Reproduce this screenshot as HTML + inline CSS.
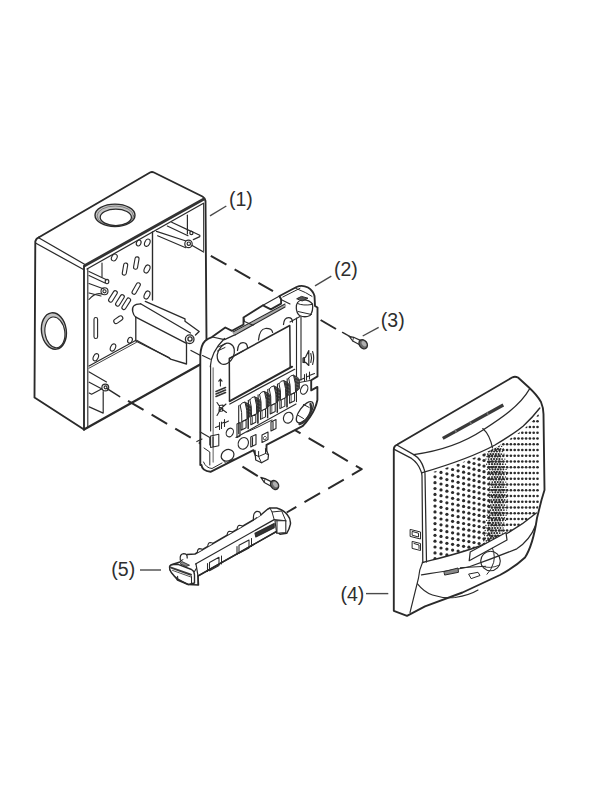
<!DOCTYPE html>
<html><head><meta charset="utf-8"><style>
html,body{margin:0;padding:0;background:#fff;}
body{width:600px;height:800px;overflow:hidden;position:relative;}
svg{position:absolute;left:0;top:0;}
.lbl{font-family:"Liberation Sans",sans-serif;font-size:19.5px;fill:#2e2e2e;}
</style></head><body>
<svg width="600" height="800" viewBox="0 0 600 800">
<g fill="none" stroke="#2a2a2a" stroke-width="1.75" stroke-linejoin="round" stroke-linecap="round">
<g fill="none" stroke="#2a2a2a" stroke-width="2" stroke-dasharray="18 9.4" stroke-linecap="butt">
<path d="M210.8,255.8 L273,291.2"/>
<path d="M320.6,320 L336,329"/>
<path d="M128,400.8 L215,452"/>
<path d="M242.5,466.6 L258,476.3"/>
<path d="M285,424.2 L361.7,469.2 L286.7,512.5"/>
</g>

<!-- ===== BOX (1) ===== -->
<g id="box">
<!-- left face -->
<path d="M39,237.3 Q36,238.3 35.3,241.5 L34.5,397.5 L84,429.5" stroke-width="1.88"/>
<!-- top-back edge -->
<path d="M39,237.3 L150,172.5 Q152,171.5 154,172.5 L202.5,196.5 Q205,198 205.5,201 L206.5,340" stroke-width="1.88"/>
<!-- top-left bevel double line -->
<path d="M39.5,238.3 L85,264.5" stroke-width="1.25"/>
<path d="M35.5,243 L83.5,269.5" stroke-width="1.25"/>
<!-- rim top edge (front of top face) -->
<path d="M85,265.5 L203.5,199.3" stroke-width="2.90" stroke="#333"/>
<path d="M87,269 L203.5,203.2" stroke-width="1.25"/>

<!-- rim left vertical -->
<path d="M84,266 L84,429.5" stroke-width="1.88"/>
<path d="M87.8,269 L87.8,427" stroke-width="1.12"/>
<!-- right rim inner -->
<path d="M203.6,203.5 L203.7,251" stroke-width="1.00"/>
<!-- bottom front edge -->
<path d="M84,429.5 L201,364" stroke-width="2.25"/>
<!-- top hole -->
<path d="M95,215.3 A20,11.2 0 1 0 135,215.3 A20,11.2 0 1 0 95,215.3 Z M100.2,217.3 A15.6,8.2 0 1 0 131.4,217.3 A15.6,8.2 0 1 0 100.2,217.3 Z" fill="#c4c4c4" fill-rule="evenodd" stroke="none"/>
<ellipse cx="115" cy="215.3" rx="20" ry="11.2" stroke-width="1.38"/>
<ellipse cx="115.3" cy="215.9" rx="18.2" ry="9.9" stroke-width="0.62" stroke="#555"/>
<ellipse cx="115.8" cy="217.3" rx="15.6" ry="8.2" stroke-width="1.25"/>
<!-- left hole -->
<g transform="rotate(-8 53.9 331)">
<path d="M41.5,331 A12.4,18.3 0 1 0 66.3,331 A12.4,18.3 0 1 0 41.5,331 Z M44.8,332.5 A9.9,15.5 0 1 0 64.6,332.5 A9.9,15.5 0 1 0 44.8,332.5 Z" fill="#c4c4c4" fill-rule="evenodd" stroke="none"/>
<ellipse cx="53.9" cy="331" rx="12.4" ry="18.3" stroke-width="1.38"/>
<ellipse cx="54.7" cy="332.5" rx="9.9" ry="15.5" stroke-width="1.12"/>
</g>
<!-- interior: back-right corner line -->
<path d="M152.5,232 L152.5,300" stroke-width="1.38"/>
<!-- back wall / floor -->
<path d="M89,366 L136,340.3" stroke-width="1.25"/>
<path d="M89,368.2 L136.5,342.3" stroke-width="0.88"/>
<path d="M137,340.5 L170,358.5" stroke-width="1.25"/>
<!-- back wall holes -->
<g stroke-width="1.12">
<ellipse cx="114.3" cy="257.5" rx="2.6" ry="3.6" transform="rotate(30 114.3 257.5)"/>
<ellipse cx="147.3" cy="242.7" rx="2.5" ry="3.8" transform="rotate(25 147.3 242.7)"/>
<ellipse cx="138.7" cy="243" rx="2.2" ry="3" transform="rotate(25 138.7 243)"/>
<rect x="134.3" y="256.8" width="4" height="12.5" rx="2" transform="rotate(10 136.3 263)"/>
<rect x="123" y="263" width="4" height="12.2" rx="2" transform="rotate(10 125 269)"/>
<ellipse cx="147" cy="269" rx="2.6" ry="4.2" transform="rotate(25 147 269)"/>
<rect x="134.3" y="282.3" width="4" height="12.5" rx="2" transform="rotate(30 136.3 288.3)"/>
<ellipse cx="147" cy="295" rx="2.6" ry="4.2" transform="rotate(25 147 295)"/>
<rect x="111" y="290" width="4" height="12.8" rx="2" transform="rotate(32 113 296.3)"/>
<rect x="118" y="294" width="4" height="12.8" rx="2" transform="rotate(32 120 300.3)"/>
<rect x="124.3" y="297.4" width="4" height="12.8" rx="2" transform="rotate(32 126.3 303.7)"/>
<rect x="116" y="314.7" width="4.6" height="10" rx="2.3" transform="rotate(55 118.3 319.7)"/>
<rect x="94" y="317.5" width="3.6" height="21" rx="1.8"/>
<ellipse cx="95.8" cy="357.3" rx="2.4" ry="3.8" transform="rotate(25 95.8 357.3)"/>
<ellipse cx="113" cy="347.5" rx="2.4" ry="3.8" transform="rotate(25 113 347.5)"/>
<ellipse cx="130" cy="340.2" rx="2.2" ry="3" transform="rotate(25 130 340.2)"/>
</g>
<!-- top-left interior bracket / rods -->
<g stroke-width="1.12">
<path d="M102,263 L102,277"/>
<path d="M89,271.5 L107,280"/>
<path d="M89,275.5 L105,283"/>
<ellipse cx="107" cy="281.5" rx="1.8" ry="2.2"/>
<path d="M89,283.5 L104,289"/>
<path d="M89,293 L101,296"/>
<circle cx="104.5" cy="291.3" r="3.5"/>
<circle cx="104.5" cy="291.3" r="1.6"/>
<path d="M89,299.5 Q95,292 102,294"/>
</g>
<!-- top-right interior pin -->
<g stroke-width="1.19">
<path d="M187.4,215.2 L187.4,234"/>
<path d="M171.7,222.2 L191.2,231.4"/>
<path d="M167.3,226 L188,235.75"/>
<circle cx="191.4" cy="233" r="1.6"/>
<path d="M191.2,231.2 L199.8,235.2 L199.8,236.6 L193.3,239.6"/>
<path d="M156.5,231.4 L186.8,241.2"/>
<path d="M157.6,235.75 L185.75,247.7"/>
<circle cx="188.5" cy="243.9" r="3.7" fill="#fff"/>
<circle cx="188.8" cy="243.7" r="1.7"/>
<path d="M192.2,245.5 L203.6,252" stroke-width="1.38"/>
</g>
<!-- bracket (DIN rail) -->
<g stroke-width="1.31">
<path d="M140.6,303.8 Q131,304 132.7,311.7 Q133.5,315.5 135.8,317.2" fill="#fff"/>
<path d="M140.6,303.8 L190.5,333"/>
<path d="M145.3,301.4 L185,318.8 L185,321.2 L199.2,331.5 L195.5,335"/>
<path d="M135.8,317.2 L186.5,343.3"/>
<circle cx="189.7" cy="339.2" r="4.3" fill="#fff"/>
<circle cx="190" cy="339" r="2.1"/>
<path d="M135.8,317.2 L135.8,341 L169,357.6 L170.5,359.2 L186.5,364 L186.5,343.5"/>
<path d="M191,350.5 L201.5,356" stroke-width="1.38"/>
</g>
<!-- lower-left boss -->
<g stroke-width="1.19">
<path d="M89.2,371.9 L106.5,382"/>
<path d="M89.2,382.2 L102,389"/>
<path d="M89.2,393 L91.6,394.2 L101.5,389"/>
<path d="M103.2,391.5 L103.2,413.1 L89.2,406.9"/>
<circle cx="105.3" cy="387.5" r="3.4" fill="#fff"/>
<circle cx="105.6" cy="387.3" r="1.5"/>
<path d="M106.7,388.4 L119.7,396.6" stroke-width="1.50"/>
</g>
</g>

<g id="plate">
<!-- silhouette fill -->
<path d="M200.3,465 L200.3,355 Q201,345 205,341 Q208,338.5 212,337.1 L225.3,327.5 L232,330.8 L243.5,324.5 L243.5,317.5 L263,305.3 L270.8,309.4 L281.1,303.6 L281.1,299.1 L279.5,296 L296.5,287 Q302,284.5 308,287.5 Q313,290.5 314.5,296 L315,306 L317.5,307.5 L317.5,376.4 L311.2,380.3 L311.2,390.4 L317.4,386.9 L317.4,400 Q315.5,409 310,417 Q306,423 302.5,426.2 L266.5,444.8 L266.5,457 Q263,462 257,459 L253.5,450.2 L210.5,471.8 Q202,471 201.5,465 Z" fill="#fff" stroke-width="1.88"/>
<!-- left frame edge lines -->
<!-- top-left corner block -->
<path d="M212.4,337 L224.5,339.6 L235.3,334.6" stroke-width="1.25"/>
<path d="M202.5,355.5 L210.3,359.2" stroke-width="1.12"/>
<path d="M210.3,366.7 Q211,352 224.5,338.5" stroke-width="1.25"/>
<ellipse cx="225.8" cy="353.8" rx="8" ry="11" transform="rotate(25 225.8 353.8)" stroke-width="1.25"/>
<path d="M218,347 L226,343.5 M217.5,351 L225,347.5" stroke-width="1.00"/>
<!-- top edge frame inner lines -->
<path d="M234,333.6 L285,305.6" stroke-width="2.30" stroke="#aaa"/>
<path d="M233,332 L285,304" stroke-width="1.12"/>
<path d="M235,335 L285,307" stroke-width="1.12"/>
<!-- tabs front faces -->
<path d="M243.5,317.5 L244.5,321.5 L253,325.3" stroke-width="1.12"/>
<path d="M279.5,296.5 L281,299.5 L290,304" stroke-width="1.12"/>
<path d="M263,305.3 L279.5,296" stroke-width="1.12"/>
<!-- window -->
<path d="M229.5,401 L229.3,358.3 L289.8,325.5 L290.2,367.2" stroke-width="1.50"/>
<path d="M230,358.3 L243,351" stroke-width="1.25"/>
<!-- notches along top of window -->
<path d="M237.5,350.5 Q238,342.5 243,342.5 Q247.5,342.5 247.5,348" stroke-width="1.25"/>
<path d="M258.5,340 Q259.5,329 265.5,328.5 Q271.8,328.3 272.6,332.3" stroke-width="1.25"/>
<path d="M283.5,324.5 Q284,317.5 288.5,317.5 Q292.5,317.5 292.5,322" stroke-width="1.25"/>
<!-- right frame lines -->
<path d="M296.5,318 L296.5,380" stroke-width="1.12"/>
<path d="M301,317 L301,380" stroke-width="1.12"/>
<path d="M290,322 L300,316.5" stroke-width="1.12"/>
<!-- top-right corner hollow cylinder -->
<path d="M296.3,308 Q296,301 302,300 Q309,299.5 312.5,304 Q313.5,311 310,315.5 Q305,318 299.5,315.5 Q296.5,313 296.3,308 Z" fill="#fff" stroke-width="1.25"/>
<path d="M297.5,303.5 Q303,306 312,304.5" stroke-width="1.00"/>
<path d="M298,311.5 L311.5,314.5" stroke-width="1.00"/>
<path d="M297,298.6 L301.5,296.4 L308,298.2 L302.5,300.8 Z" fill="#555" stroke-width="1.00"/>
<path d="M295.7,288.3 L305.5,292.6 L312,296.4" stroke-width="1.00"/>
<path d="M282.8,297 L300,288.3" stroke-width="1.00"/>
<!-- speaker icon -->
<path d="M303,358 L305.5,357.3 L308.8,350.5 L308.8,365.5 L305.5,362.3 L303,362.5 Z" stroke-width="1.19" fill="#fff"/>
<path d="M304.2,358 L304.2,362.3" stroke-width="1.75"/>
<path d="M310.8,353.5 Q312.3,358 310.8,362.5 M312.6,351.5 Q314.8,358 312.6,364.5" stroke-width="1.12"/>
<!-- battery symbols -->
<path d="M300,380 L304,378.3 M304.5,374.5 L304.5,381 M306.5,373.8 L306.5,380 M307,376.8 L309,376 M309.5,372 L309.5,379 M310,375.3 L314.5,373.5" stroke-width="1.06"/>

<!-- right edge features -->
<ellipse cx="304.2" cy="389.5" rx="3.3" ry="5" transform="rotate(25 304.2 389.5)" stroke-width="1.12"/>
<ellipse cx="304.8" cy="412.2" rx="5.3" ry="12.5" transform="rotate(36 304.8 412.2)" stroke-width="1.25"/>
<path d="M310.5,404 Q313,410 307,419 Q303,423.5 299.5,424" stroke-width="2.30" stroke="#333"/>
<path d="M303.5,404.5 L309.2,407.5 M297.5,415 L303.5,418.5" stroke-width="1.00"/>
<path d="M296.5,378 L296.5,383 L311.2,380.3" stroke-width="1.00"/>
<!-- window bottom ledge -->
<path d="M229.8,401.1 L292.1,366.7" stroke-width="2.00"/>
<path d="M229.8,404 L294.7,369.3" stroke-width="1.25"/>
<!-- left frame symbols -->
<path d="M220.4,386 L220.4,379.5 M218.8,381.2 L220.4,379 L222,381.2" stroke-width="1.12"/>
<path d="M216,391.5 L225.5,387.5 M216,394 L225.5,390 M216,396.5 L225.5,392.5" stroke-width="1.62" stroke="#333"/>
<path d="M217,402.5 L221,408.5 L226,404 M221,408.5 L217,415.5 M221,408.5 L226.5,412.5 M219.5,405.5 L223,405 L222.5,411 L219,411.5 Z" stroke-width="1.12"/>
<path d="M215.5,427.5 L219,426 M219.5,422.5 L219.5,429.5 M221.5,422 L221.5,428.5 M222.5,423 L224.5,422 M224.5,419.5 L224.5,426.5 M224.5,423 L228.5,421" stroke-width="1.06"/>
<path d="M210.6,366 L210.6,431" stroke-width="1.12"/>
<path d="M213.2,368 L213.2,462" stroke-width="1.62" stroke="#9a9a9a"/>
</g>

<g id="terminals">
<path d="M238.7,405.7 L238.7,433.7" stroke-width="1.12"/>
<path d="M245.0,402.2 Q249.5,403.2 251.0,406.7 L251.0,415.7 L247.0,419.2 Q247.5,409.7 245.0,402.2 Z" fill="#3a3a3a" stroke="#2a2a2a" stroke-width="0.75"/>
<path d="M247.0,404.2 L250.5,405.6" stroke="#888" stroke-width="0.56"/>
<path d="M247.0,407.4 L250.5,408.8" stroke="#888" stroke-width="0.56"/>
<path d="M247.0,410.6 L250.5,412.0" stroke="#888" stroke-width="0.56"/>
<path d="M247.0,413.8 L250.5,415.2" stroke="#888" stroke-width="0.56"/>
<path d="M240.2,405.2 Q242.0,401.9 245.0,402.2 Q247.5,409.7 247.0,419.2 L241.8,421.7 Q242.3,411.7 240.2,405.2 Z" fill="#fff" stroke-width="1.00"/>
<path d="M241.1,422.2 L246.1,419.7 L246.1,427.7 L241.1,430.2 Z" fill="#fff" stroke-width="1.06"/>
<path d="M242.7,422.2 L242.7,429.2" stroke-width="0.75"/>
<path d="M248.0,418.2 L248.0,428.7" stroke-width="1.00"/>
<path d="M248.4,400.3 L248.4,428.3" stroke-width="1.12"/>
<path d="M254.7,396.8 Q259.2,397.8 260.7,401.3 L260.7,410.3 L256.7,413.8 Q257.2,404.3 254.7,396.8 Z" fill="#3a3a3a" stroke="#2a2a2a" stroke-width="0.75"/>
<path d="M256.7,398.8 L260.2,400.2" stroke="#888" stroke-width="0.56"/>
<path d="M256.7,402.0 L260.2,403.4" stroke="#888" stroke-width="0.56"/>
<path d="M256.7,405.2 L260.2,406.6" stroke="#888" stroke-width="0.56"/>
<path d="M256.7,408.4 L260.2,409.8" stroke="#888" stroke-width="0.56"/>
<path d="M249.9,399.8 Q251.7,396.5 254.7,396.8 Q257.2,404.3 256.7,413.8 L251.5,416.3 Q252.0,406.3 249.9,399.8 Z" fill="#fff" stroke-width="1.00"/>
<path d="M250.8,416.8 L255.8,414.3 L255.8,422.3 L250.8,424.8 Z" fill="#fff" stroke-width="1.06"/>
<path d="M252.4,416.8 L252.4,423.8" stroke-width="0.75"/>
<path d="M257.7,412.8 L257.7,423.3" stroke-width="1.00"/>
<path d="M258.1,394.9 L258.1,422.9" stroke-width="1.12"/>
<path d="M264.4,391.4 Q268.9,392.4 270.4,395.9 L270.4,404.9 L266.4,408.4 Q266.9,398.9 264.4,391.4 Z" fill="#3a3a3a" stroke="#2a2a2a" stroke-width="0.75"/>
<path d="M266.4,393.4 L269.9,394.8" stroke="#888" stroke-width="0.56"/>
<path d="M266.4,396.6 L269.9,398.0" stroke="#888" stroke-width="0.56"/>
<path d="M266.4,399.8 L269.9,401.2" stroke="#888" stroke-width="0.56"/>
<path d="M266.4,403.0 L269.9,404.4" stroke="#888" stroke-width="0.56"/>
<path d="M259.6,394.4 Q261.4,391.1 264.4,391.4 Q266.9,398.9 266.4,408.4 L261.2,410.9 Q261.7,400.9 259.6,394.4 Z" fill="#fff" stroke-width="1.00"/>
<path d="M260.5,411.4 L265.5,408.9 L265.5,416.9 L260.5,419.4 Z" fill="#fff" stroke-width="1.06"/>
<path d="M262.1,411.4 L262.1,418.4" stroke-width="0.75"/>
<path d="M267.4,407.4 L267.4,417.9" stroke-width="1.00"/>
<path d="M267.8,389.5 L267.8,417.5" stroke-width="1.12"/>
<path d="M274.1,386.0 Q278.6,387.0 280.1,390.5 L280.1,399.5 L276.1,403.0 Q276.6,393.5 274.1,386.0 Z" fill="#3a3a3a" stroke="#2a2a2a" stroke-width="0.75"/>
<path d="M276.1,388.0 L279.6,389.4" stroke="#888" stroke-width="0.56"/>
<path d="M276.1,391.2 L279.6,392.6" stroke="#888" stroke-width="0.56"/>
<path d="M276.1,394.4 L279.6,395.8" stroke="#888" stroke-width="0.56"/>
<path d="M276.1,397.6 L279.6,399.0" stroke="#888" stroke-width="0.56"/>
<path d="M269.3,389.0 Q271.1,385.7 274.1,386.0 Q276.6,393.5 276.1,403.0 L270.9,405.5 Q271.4,395.5 269.3,389.0 Z" fill="#fff" stroke-width="1.00"/>
<path d="M270.2,406.0 L275.2,403.5 L275.2,411.5 L270.2,414.0 Z" fill="#fff" stroke-width="1.06"/>
<path d="M271.8,406.0 L271.8,413.0" stroke-width="0.75"/>
<path d="M277.1,402.0 L277.1,412.5" stroke-width="1.00"/>
<path d="M277.5,384.1 L277.5,412.1" stroke-width="1.12"/>
<path d="M283.8,380.6 Q288.3,381.6 289.8,385.1 L289.8,394.1 L285.8,397.6 Q286.3,388.1 283.8,380.6 Z" fill="#3a3a3a" stroke="#2a2a2a" stroke-width="0.75"/>
<path d="M285.8,382.6 L289.3,384.0" stroke="#888" stroke-width="0.56"/>
<path d="M285.8,385.8 L289.3,387.2" stroke="#888" stroke-width="0.56"/>
<path d="M285.8,389.0 L289.3,390.4" stroke="#888" stroke-width="0.56"/>
<path d="M285.8,392.2 L289.3,393.6" stroke="#888" stroke-width="0.56"/>
<path d="M279.0,383.6 Q280.8,380.3 283.8,380.6 Q286.3,388.1 285.8,397.6 L280.6,400.1 Q281.1,390.1 279.0,383.6 Z" fill="#fff" stroke-width="1.00"/>
<path d="M279.9,400.6 L284.9,398.1 L284.9,406.1 L279.9,408.6 Z" fill="#fff" stroke-width="1.06"/>
<path d="M281.5,400.6 L281.5,407.6" stroke-width="0.75"/>
<path d="M286.8,396.6 L286.8,407.1" stroke-width="1.00"/>
<path d="M287.2,378.7 L287.2,406.7" stroke-width="1.12"/>
<path d="M293.5,375.2 Q298.0,376.2 299.5,379.7 L299.5,388.7 L295.5,392.2 Q296.0,382.7 293.5,375.2 Z" fill="#3a3a3a" stroke="#2a2a2a" stroke-width="0.75"/>
<path d="M295.5,377.2 L299.0,378.6" stroke="#888" stroke-width="0.56"/>
<path d="M295.5,380.4 L299.0,381.8" stroke="#888" stroke-width="0.56"/>
<path d="M295.5,383.6 L299.0,385.0" stroke="#888" stroke-width="0.56"/>
<path d="M295.5,386.8 L299.0,388.2" stroke="#888" stroke-width="0.56"/>
<path d="M288.7,378.2 Q290.5,374.9 293.5,375.2 Q296.0,382.7 295.5,392.2 L290.3,394.7 Q290.8,384.7 288.7,378.2 Z" fill="#fff" stroke-width="1.00"/>
<path d="M289.6,395.2 L294.6,392.7 L294.6,400.7 L289.6,403.2 Z" fill="#fff" stroke-width="1.06"/>
<path d="M291.2,395.2 L291.2,402.2" stroke-width="0.75"/>
<path d="M296.5,391.2 L296.5,401.7" stroke-width="1.00"/>
</g>

<g id="plate_lower">
<!-- bottom-left corner -->
<path d="M200.3,432 L209.8,437.6 L209.8,445 M196.8,441.6 L202,439 M200.3,444 L200.3,441" stroke-width="1.12"/>
<path d="M210.6,436 L218.8,434.3 L218.8,445.7 L210.6,447.5 Z M213,437 L213,446.5" stroke-width="1.06"/>
<path d="M204,448 L209.8,452 L209.8,465" stroke-width="1.00"/>
<path d="M203.5,462 Q206,468 212,468.5 L222,463" stroke-width="1.00"/>
<!-- bottom-left hollow -->
<ellipse cx="227.6" cy="455.3" rx="6.6" ry="5.6" transform="rotate(-30 227.6 455.3)" stroke-width="1.25"/>
<path d="M221.5,458.5 L226,463.5 L234,459" stroke-width="1.00"/>
<!-- holes -->
<ellipse cx="243.3" cy="443.4" rx="5" ry="6" transform="rotate(25 243.3 443.4)" stroke-width="1.12"/>
<ellipse cx="229.8" cy="432.5" rx="3.4" ry="4.5" transform="rotate(25 229.8 432.5)" stroke-width="1.12"/>
<ellipse cx="288.2" cy="417.7" rx="4.6" ry="5.6" transform="rotate(25 288.2 417.7)" stroke-width="1.12"/>
<!-- rect openings -->
<path d="M250.8,437 L256,434.5 L256,444.5 L250.8,447 Z M252.5,437.5 L252.5,445.5" stroke-width="1.12"/>
<path d="M262,435 L268,432 L268,439.5 L262,442.5 Z" stroke-width="1.12"/>
<path d="M263.5,437.5 L265,436 L266.5,437.5 L265.5,439.5 L264,439.5 Z" stroke-width="0.75"/>
<!-- small rect near terminals bottom -->
<path d="M237,424 L240,422.5 L240,436 L237,437.5 Z" stroke-width="1.12"/>
<path d="M271,422 L276,419.5 L276,428.5 L271,431 Z M273,422 L273,429" stroke-width="1.12"/>
<!-- terminal block base line -->
<path d="M236,437.5 L296,404" stroke-width="1.12"/>
<path d="M247,432 L258,427 L272,420" stroke-width="1.00"/>
<!-- bottom stud -->
<path d="M255,450.5 L255.7,460 L261.5,462.8 L268,459.3 L268.5,454.7 L265.5,448.8" fill="#fff" stroke-width="1.25"/>
<path d="M255.5,455 L258.6,456.5 L265.5,453.5 L268.5,454.7 M258.6,456.5 L261.5,462.8 M258.6,456.5 L258.6,451.5 M265.5,453.5 L265.5,449" stroke-width="1.00"/>
<!-- right side bottom -->

</g>

<g id="screws">
<!-- screw 3 -->
<path d="M342.5,332.4 L347,334.8 M347.8,335.3 L349.5,336.3" stroke-width="1.38"/>
<path d="M349.3,336.4 L353.6,337.3 L360.4,340.4 L359.2,344.6 L352.7,341 Z" fill="#fff" stroke-width="1.19"/>
<path d="M353.6,337.3 L352.7,341" stroke-width="0.88"/>
<ellipse cx="363.2" cy="344.2" rx="3.8" ry="4.9" transform="rotate(-35 363.2 344.2)" fill="#6a6a6a" stroke-width="1.38"/>
<ellipse cx="364" cy="343.7" rx="2" ry="3" transform="rotate(-35 364 343.7)" fill="#b0b0b0" stroke="none"/>
<!-- screw under plate -->
<path d="M260.8,477.4 L265,478.6 L271.7,481.9 L270.6,486 L264.3,482.4 Z" fill="#fff" stroke-width="1.19"/>
<path d="M265,478.6 L264.3,482.4" stroke-width="0.88"/>
<ellipse cx="274.6" cy="485" rx="3.7" ry="4.8" transform="rotate(-35 274.6 485)" fill="#6a6a6a" stroke-width="1.38"/>
<ellipse cx="275.4" cy="484.5" rx="2" ry="3" transform="rotate(-35 275.4 484.5)" fill="#b0b0b0" stroke="none"/>
</g>

<g id="cover">
<!-- silhouette -->
<path d="M393.8,449 Q394,445.8 397.3,444.5 L512.5,377.3 Q515,376 518,377.5 L528.7,387.3 Q537,395 541,402 Q543.5,408 543.5,414 L544.5,490 L541.5,500 L537,518 Q533,545 525,557.5 Q515,567 500,575 L462.5,592.5 L425,606.3 L407,615.8 L393.8,610.8 Z" fill="#fff" stroke-width="1.88"/>
</g>

<defs><clipPath id="dotclip"><path d="M426.5,474 C445,468.5 472,460 496,447.5 Q515,436 524,429 Q534,420 541,411 L541,500 Q538,508 536,513 Q515,531 490,542 C465,552.5 440,558 426.5,561.5 Z"/></clipPath></defs>
<g clip-path="url(#dotclip)"><g fill="#2b2b2b" stroke="none"><circle cx="435.0" cy="430.0" r="1.62"/><circle cx="435.0" cy="435.9" r="1.62"/><circle cx="435.0" cy="441.7" r="1.62"/><circle cx="435.0" cy="447.6" r="1.62"/><circle cx="435.0" cy="453.4" r="1.62"/><circle cx="435.0" cy="459.3" r="1.62"/><circle cx="435.0" cy="465.1" r="1.62"/><circle cx="435.0" cy="471.0" r="1.62"/><circle cx="435.0" cy="476.8" r="1.62"/><circle cx="435.0" cy="482.7" r="1.62"/><circle cx="435.0" cy="488.5" r="1.62"/><circle cx="435.0" cy="494.4" r="1.62"/><circle cx="435.0" cy="500.2" r="1.62"/><circle cx="435.0" cy="506.1" r="1.62"/><circle cx="435.0" cy="511.9" r="1.62"/><circle cx="435.0" cy="517.8" r="1.62"/><circle cx="435.0" cy="523.6" r="1.62"/><circle cx="435.0" cy="529.5" r="1.62"/><circle cx="435.0" cy="535.3" r="1.62"/><circle cx="435.0" cy="541.2" r="1.62"/><circle cx="435.0" cy="547.0" r="1.62"/><circle cx="435.0" cy="552.9" r="1.62"/><circle cx="435.0" cy="558.7" r="1.62"/><circle cx="435.0" cy="564.6" r="1.62"/><circle cx="441.0" cy="431.7" r="1.62"/><circle cx="441.0" cy="437.5" r="1.62"/><circle cx="441.0" cy="443.3" r="1.62"/><circle cx="441.0" cy="449.1" r="1.62"/><circle cx="441.0" cy="455.0" r="1.62"/><circle cx="441.0" cy="460.8" r="1.62"/><circle cx="441.0" cy="466.6" r="1.62"/><circle cx="441.0" cy="472.4" r="1.62"/><circle cx="441.0" cy="478.2" r="1.62"/><circle cx="441.0" cy="484.0" r="1.62"/><circle cx="441.0" cy="489.9" r="1.62"/><circle cx="441.0" cy="495.7" r="1.62"/><circle cx="441.0" cy="501.5" r="1.62"/><circle cx="441.0" cy="507.3" r="1.62"/><circle cx="441.0" cy="513.1" r="1.62"/><circle cx="441.0" cy="519.0" r="1.62"/><circle cx="441.0" cy="524.8" r="1.62"/><circle cx="441.0" cy="530.6" r="1.62"/><circle cx="441.0" cy="536.4" r="1.62"/><circle cx="441.0" cy="542.2" r="1.62"/><circle cx="441.0" cy="548.0" r="1.62"/><circle cx="441.0" cy="553.9" r="1.62"/><circle cx="441.0" cy="559.7" r="1.62"/><circle cx="441.0" cy="565.5" r="1.62"/><circle cx="446.9" cy="433.3" r="1.62"/><circle cx="446.9" cy="439.1" r="1.62"/><circle cx="446.9" cy="444.9" r="1.62"/><circle cx="446.9" cy="450.7" r="1.62"/><circle cx="446.9" cy="456.5" r="1.62"/><circle cx="446.9" cy="462.3" r="1.62"/><circle cx="446.9" cy="468.0" r="1.62"/><circle cx="446.9" cy="473.8" r="1.62"/><circle cx="446.9" cy="479.6" r="1.62"/><circle cx="446.9" cy="485.4" r="1.62"/><circle cx="446.9" cy="491.2" r="1.62"/><circle cx="446.9" cy="497.0" r="1.62"/><circle cx="446.9" cy="502.8" r="1.62"/><circle cx="446.9" cy="508.6" r="1.62"/><circle cx="446.9" cy="514.3" r="1.62"/><circle cx="446.9" cy="520.1" r="1.62"/><circle cx="446.9" cy="525.9" r="1.62"/><circle cx="446.9" cy="531.7" r="1.62"/><circle cx="446.9" cy="537.5" r="1.62"/><circle cx="446.9" cy="543.3" r="1.62"/><circle cx="446.9" cy="549.1" r="1.62"/><circle cx="446.9" cy="554.9" r="1.62"/><circle cx="446.9" cy="560.6" r="1.62"/><circle cx="446.9" cy="566.4" r="1.62"/><circle cx="452.6" cy="434.9" r="1.62"/><circle cx="452.6" cy="440.7" r="1.62"/><circle cx="452.6" cy="446.4" r="1.62"/><circle cx="452.6" cy="452.2" r="1.62"/><circle cx="452.6" cy="457.9" r="1.62"/><circle cx="452.6" cy="463.7" r="1.62"/><circle cx="452.6" cy="469.5" r="1.62"/><circle cx="452.6" cy="475.2" r="1.62"/><circle cx="452.6" cy="481.0" r="1.62"/><circle cx="452.6" cy="486.7" r="1.62"/><circle cx="452.6" cy="492.5" r="1.62"/><circle cx="452.6" cy="498.3" r="1.62"/><circle cx="452.6" cy="504.0" r="1.62"/><circle cx="452.6" cy="509.8" r="1.62"/><circle cx="452.6" cy="515.5" r="1.62"/><circle cx="452.6" cy="521.3" r="1.62"/><circle cx="452.6" cy="527.0" r="1.62"/><circle cx="452.6" cy="532.8" r="1.62"/><circle cx="452.6" cy="538.6" r="1.62"/><circle cx="452.6" cy="544.3" r="1.62"/><circle cx="452.6" cy="550.1" r="1.62"/><circle cx="452.6" cy="555.8" r="1.62"/><circle cx="452.6" cy="561.6" r="1.62"/><circle cx="452.6" cy="567.3" r="1.62"/><circle cx="458.1" cy="430.7" r="1.62"/><circle cx="458.1" cy="436.5" r="1.62"/><circle cx="458.1" cy="442.2" r="1.62"/><circle cx="458.1" cy="447.9" r="1.62"/><circle cx="458.1" cy="453.7" r="1.62"/><circle cx="458.1" cy="459.4" r="1.62"/><circle cx="458.1" cy="465.1" r="1.62"/><circle cx="458.1" cy="470.8" r="1.62"/><circle cx="458.1" cy="476.6" r="1.62"/><circle cx="458.1" cy="482.3" r="1.62"/><circle cx="458.1" cy="488.0" r="1.62"/><circle cx="458.1" cy="493.8" r="1.62"/><circle cx="458.1" cy="499.5" r="1.62"/><circle cx="458.1" cy="505.2" r="1.62"/><circle cx="458.1" cy="510.9" r="1.62"/><circle cx="458.1" cy="516.7" r="1.62"/><circle cx="458.1" cy="522.4" r="1.62"/><circle cx="458.1" cy="528.1" r="1.62"/><circle cx="458.1" cy="533.9" r="1.62"/><circle cx="458.1" cy="539.6" r="1.62"/><circle cx="458.1" cy="545.3" r="1.62"/><circle cx="458.1" cy="551.0" r="1.62"/><circle cx="458.1" cy="556.8" r="1.62"/><circle cx="458.1" cy="562.5" r="1.62"/><circle cx="458.1" cy="568.2" r="1.62"/><circle cx="463.6" cy="432.3" r="1.62"/><circle cx="463.6" cy="438.0" r="1.62"/><circle cx="463.6" cy="443.7" r="1.62"/><circle cx="463.6" cy="449.4" r="1.62"/><circle cx="463.6" cy="455.1" r="1.62"/><circle cx="463.6" cy="460.8" r="1.62"/><circle cx="463.6" cy="466.5" r="1.62"/><circle cx="463.6" cy="472.2" r="1.62"/><circle cx="463.6" cy="477.9" r="1.62"/><circle cx="463.6" cy="483.6" r="1.62"/><circle cx="463.6" cy="489.3" r="1.62"/><circle cx="463.6" cy="495.0" r="1.62"/><circle cx="463.6" cy="500.7" r="1.62"/><circle cx="463.6" cy="506.4" r="1.62"/><circle cx="463.6" cy="512.1" r="1.62"/><circle cx="463.6" cy="517.8" r="1.62"/><circle cx="463.6" cy="523.5" r="1.62"/><circle cx="463.6" cy="529.2" r="1.62"/><circle cx="463.6" cy="534.9" r="1.62"/><circle cx="463.6" cy="540.6" r="1.62"/><circle cx="463.6" cy="546.3" r="1.62"/><circle cx="463.6" cy="552.0" r="1.62"/><circle cx="463.6" cy="557.7" r="1.62"/><circle cx="463.6" cy="563.4" r="1.62"/><circle cx="463.6" cy="569.1" r="1.62"/><circle cx="468.9" cy="433.8" r="1.62"/><circle cx="468.9" cy="439.5" r="1.62"/><circle cx="468.9" cy="445.2" r="1.62"/><circle cx="468.9" cy="450.8" r="1.62"/><circle cx="468.9" cy="456.5" r="1.62"/><circle cx="468.9" cy="462.2" r="1.62"/><circle cx="468.9" cy="467.8" r="1.62"/><circle cx="468.9" cy="473.5" r="1.62"/><circle cx="468.9" cy="479.2" r="1.62"/><circle cx="468.9" cy="484.9" r="1.62"/><circle cx="468.9" cy="490.5" r="1.62"/><circle cx="468.9" cy="496.2" r="1.62"/><circle cx="468.9" cy="501.9" r="1.62"/><circle cx="468.9" cy="507.5" r="1.62"/><circle cx="468.9" cy="513.2" r="1.62"/><circle cx="468.9" cy="518.9" r="1.62"/><circle cx="468.9" cy="524.6" r="1.62"/><circle cx="468.9" cy="530.2" r="1.62"/><circle cx="468.9" cy="535.9" r="1.62"/><circle cx="468.9" cy="541.6" r="1.62"/><circle cx="468.9" cy="547.2" r="1.62"/><circle cx="468.9" cy="552.9" r="1.62"/><circle cx="468.9" cy="558.6" r="1.62"/><circle cx="468.9" cy="564.3" r="1.62"/><circle cx="468.9" cy="569.9" r="1.62"/><circle cx="474.0" cy="435.3" r="1.62"/><circle cx="474.0" cy="440.9" r="1.62"/><circle cx="474.0" cy="446.6" r="1.62"/><circle cx="474.0" cy="452.2" r="1.62"/><circle cx="474.0" cy="457.9" r="1.62"/><circle cx="474.0" cy="463.5" r="1.62"/><circle cx="474.0" cy="469.2" r="1.62"/><circle cx="474.0" cy="474.8" r="1.62"/><circle cx="474.0" cy="480.4" r="1.62"/><circle cx="474.0" cy="486.1" r="1.62"/><circle cx="474.0" cy="491.7" r="1.62"/><circle cx="474.0" cy="497.4" r="1.62"/><circle cx="474.0" cy="503.0" r="1.62"/><circle cx="474.0" cy="508.7" r="1.62"/><circle cx="474.0" cy="514.3" r="1.62"/><circle cx="474.0" cy="520.0" r="1.62"/><circle cx="474.0" cy="525.6" r="1.62"/><circle cx="474.0" cy="531.2" r="1.62"/><circle cx="474.0" cy="536.9" r="1.62"/><circle cx="474.0" cy="542.5" r="1.62"/><circle cx="474.0" cy="548.2" r="1.62"/><circle cx="474.0" cy="553.8" r="1.62"/><circle cx="474.0" cy="559.5" r="1.62"/><circle cx="474.0" cy="565.1" r="1.62"/><circle cx="479.1" cy="431.1" r="1.62"/><circle cx="479.1" cy="436.7" r="1.62"/><circle cx="479.1" cy="442.3" r="1.62"/><circle cx="479.1" cy="448.0" r="1.62"/><circle cx="479.1" cy="453.6" r="1.62"/><circle cx="479.1" cy="459.2" r="1.62"/><circle cx="479.1" cy="464.8" r="1.62"/><circle cx="479.1" cy="470.4" r="1.62"/><circle cx="479.1" cy="476.0" r="1.62"/><circle cx="479.1" cy="481.7" r="1.62"/><circle cx="479.1" cy="487.3" r="1.62"/><circle cx="479.1" cy="492.9" r="1.62"/><circle cx="479.1" cy="498.5" r="1.62"/><circle cx="479.1" cy="504.1" r="1.62"/><circle cx="479.1" cy="509.8" r="1.62"/><circle cx="479.1" cy="515.4" r="1.62"/><circle cx="479.1" cy="521.0" r="1.62"/><circle cx="479.1" cy="526.6" r="1.62"/><circle cx="479.1" cy="532.2" r="1.62"/><circle cx="479.1" cy="537.8" r="1.62"/><circle cx="479.1" cy="543.5" r="1.62"/><circle cx="479.1" cy="549.1" r="1.62"/><circle cx="479.1" cy="554.7" r="1.62"/><circle cx="479.1" cy="560.3" r="1.62"/><circle cx="479.1" cy="565.9" r="1.62"/><circle cx="484.0" cy="432.5" r="1.62"/><circle cx="484.0" cy="438.1" r="1.62"/><circle cx="484.0" cy="443.7" r="1.62"/><circle cx="484.0" cy="449.3" r="1.62"/><circle cx="484.0" cy="454.9" r="1.62"/><circle cx="484.0" cy="460.5" r="1.62"/><circle cx="484.0" cy="466.1" r="1.62"/><circle cx="484.0" cy="471.7" r="1.62"/><circle cx="484.0" cy="477.3" r="1.62"/><circle cx="484.0" cy="482.9" r="1.62"/><circle cx="484.0" cy="488.5" r="1.62"/><circle cx="484.0" cy="494.0" r="1.62"/><circle cx="484.0" cy="499.6" r="1.62"/><circle cx="484.0" cy="505.2" r="1.62"/><circle cx="484.0" cy="510.8" r="1.62"/><circle cx="484.0" cy="516.4" r="1.62"/><circle cx="484.0" cy="522.0" r="1.62"/><circle cx="484.0" cy="527.6" r="1.62"/><circle cx="484.0" cy="533.2" r="1.62"/><circle cx="484.0" cy="538.8" r="1.62"/><circle cx="484.0" cy="544.4" r="1.62"/><circle cx="484.0" cy="550.0" r="1.62"/><circle cx="484.0" cy="555.6" r="1.62"/><circle cx="484.0" cy="561.2" r="1.62"/><circle cx="484.0" cy="566.7" r="1.62"/><circle cx="488.8" cy="433.9" r="1.62"/><circle cx="488.8" cy="439.5" r="1.62"/><circle cx="488.8" cy="445.1" r="1.62"/><circle cx="488.8" cy="450.6" r="1.62"/><circle cx="488.8" cy="456.2" r="1.62"/><circle cx="488.8" cy="461.8" r="1.62"/><circle cx="488.8" cy="467.3" r="1.62"/><circle cx="488.8" cy="472.9" r="1.62"/><circle cx="488.8" cy="478.5" r="1.62"/><circle cx="488.8" cy="484.0" r="1.62"/><circle cx="488.8" cy="489.6" r="1.62"/><circle cx="488.8" cy="495.2" r="1.62"/><circle cx="488.8" cy="500.7" r="1.62"/><circle cx="488.8" cy="506.3" r="1.62"/><circle cx="488.8" cy="511.9" r="1.62"/><circle cx="488.8" cy="517.4" r="1.62"/><circle cx="488.8" cy="523.0" r="1.62"/><circle cx="488.8" cy="528.6" r="1.62"/><circle cx="488.8" cy="534.1" r="1.62"/><circle cx="488.8" cy="539.7" r="1.62"/><circle cx="488.8" cy="545.3" r="1.62"/><circle cx="488.8" cy="550.8" r="1.62"/><circle cx="488.8" cy="556.4" r="1.62"/><circle cx="488.8" cy="562.0" r="1.62"/><circle cx="488.8" cy="567.5" r="1.62"/><ellipse cx="537.5" cy="415.5" rx="1.32" ry="1.3"/><ellipse cx="537.5" cy="421.2" rx="1.32" ry="1.3"/><ellipse cx="537.5" cy="427.0" rx="1.32" ry="1.3"/><ellipse cx="537.5" cy="432.8" rx="1.32" ry="1.3"/><ellipse cx="537.5" cy="438.5" rx="1.32" ry="1.3"/><ellipse cx="537.5" cy="444.2" rx="1.32" ry="1.3"/><ellipse cx="537.5" cy="450.0" rx="1.32" ry="1.3"/><ellipse cx="537.5" cy="455.8" rx="1.32" ry="1.3"/><ellipse cx="537.5" cy="461.5" rx="1.32" ry="1.3"/><ellipse cx="537.5" cy="467.2" rx="1.32" ry="1.3"/><ellipse cx="537.5" cy="473.0" rx="1.32" ry="1.3"/><ellipse cx="537.5" cy="478.8" rx="1.32" ry="1.3"/><ellipse cx="537.5" cy="484.5" rx="1.32" ry="1.3"/><ellipse cx="537.5" cy="490.2" rx="1.32" ry="1.3"/><ellipse cx="537.5" cy="496.0" rx="1.32" ry="1.3"/><ellipse cx="537.5" cy="501.8" rx="1.32" ry="1.3"/><ellipse cx="537.5" cy="507.5" rx="1.32" ry="1.3"/><ellipse cx="537.5" cy="513.2" rx="1.32" ry="1.3"/><ellipse cx="537.5" cy="519.0" rx="1.32" ry="1.3"/><ellipse cx="537.5" cy="524.8" rx="1.32" ry="1.3"/><ellipse cx="537.5" cy="530.5" rx="1.32" ry="1.3"/><ellipse cx="537.5" cy="536.2" rx="1.32" ry="1.3"/><ellipse cx="537.5" cy="542.0" rx="1.32" ry="1.3"/><ellipse cx="537.5" cy="547.8" rx="1.32" ry="1.3"/><ellipse cx="537.5" cy="553.5" rx="1.32" ry="1.3"/><ellipse cx="537.5" cy="559.2" rx="1.32" ry="1.3"/><ellipse cx="533.7" cy="415.5" rx="1.32" ry="1.3"/><ellipse cx="533.7" cy="421.2" rx="1.32" ry="1.3"/><ellipse cx="533.7" cy="427.0" rx="1.32" ry="1.3"/><ellipse cx="533.7" cy="432.8" rx="1.32" ry="1.3"/><ellipse cx="533.7" cy="438.5" rx="1.32" ry="1.3"/><ellipse cx="533.7" cy="444.2" rx="1.32" ry="1.3"/><ellipse cx="533.7" cy="450.0" rx="1.32" ry="1.3"/><ellipse cx="533.7" cy="455.8" rx="1.32" ry="1.3"/><ellipse cx="533.7" cy="461.5" rx="1.32" ry="1.3"/><ellipse cx="533.7" cy="467.2" rx="1.32" ry="1.3"/><ellipse cx="533.7" cy="473.0" rx="1.32" ry="1.3"/><ellipse cx="533.7" cy="478.8" rx="1.32" ry="1.3"/><ellipse cx="533.7" cy="484.5" rx="1.32" ry="1.3"/><ellipse cx="533.7" cy="490.2" rx="1.32" ry="1.3"/><ellipse cx="533.7" cy="496.0" rx="1.32" ry="1.3"/><ellipse cx="533.7" cy="501.8" rx="1.32" ry="1.3"/><ellipse cx="533.7" cy="507.5" rx="1.32" ry="1.3"/><ellipse cx="533.7" cy="513.2" rx="1.32" ry="1.3"/><ellipse cx="533.7" cy="519.0" rx="1.32" ry="1.3"/><ellipse cx="533.7" cy="524.8" rx="1.32" ry="1.3"/><ellipse cx="533.7" cy="530.5" rx="1.32" ry="1.3"/><ellipse cx="533.7" cy="536.2" rx="1.32" ry="1.3"/><ellipse cx="533.7" cy="542.0" rx="1.32" ry="1.3"/><ellipse cx="533.7" cy="547.8" rx="1.32" ry="1.3"/><ellipse cx="533.7" cy="553.5" rx="1.32" ry="1.3"/><ellipse cx="533.7" cy="559.2" rx="1.32" ry="1.3"/><ellipse cx="529.9" cy="415.5" rx="1.32" ry="1.3"/><ellipse cx="529.9" cy="421.2" rx="1.32" ry="1.3"/><ellipse cx="529.9" cy="427.0" rx="1.32" ry="1.3"/><ellipse cx="529.9" cy="432.8" rx="1.32" ry="1.3"/><ellipse cx="529.9" cy="438.5" rx="1.32" ry="1.3"/><ellipse cx="529.9" cy="444.2" rx="1.32" ry="1.3"/><ellipse cx="529.9" cy="450.0" rx="1.32" ry="1.3"/><ellipse cx="529.9" cy="455.8" rx="1.32" ry="1.3"/><ellipse cx="529.9" cy="461.5" rx="1.32" ry="1.3"/><ellipse cx="529.9" cy="467.2" rx="1.32" ry="1.3"/><ellipse cx="529.9" cy="473.0" rx="1.32" ry="1.3"/><ellipse cx="529.9" cy="478.8" rx="1.32" ry="1.3"/><ellipse cx="529.9" cy="484.5" rx="1.32" ry="1.3"/><ellipse cx="529.9" cy="490.2" rx="1.32" ry="1.3"/><ellipse cx="529.9" cy="496.0" rx="1.32" ry="1.3"/><ellipse cx="529.9" cy="501.8" rx="1.32" ry="1.3"/><ellipse cx="529.9" cy="507.5" rx="1.32" ry="1.3"/><ellipse cx="529.9" cy="513.2" rx="1.32" ry="1.3"/><ellipse cx="529.9" cy="519.0" rx="1.32" ry="1.3"/><ellipse cx="529.9" cy="524.8" rx="1.32" ry="1.3"/><ellipse cx="529.9" cy="530.5" rx="1.32" ry="1.3"/><ellipse cx="529.9" cy="536.2" rx="1.32" ry="1.3"/><ellipse cx="529.9" cy="542.0" rx="1.32" ry="1.3"/><ellipse cx="529.9" cy="547.8" rx="1.32" ry="1.3"/><ellipse cx="529.9" cy="553.5" rx="1.32" ry="1.3"/><ellipse cx="529.9" cy="559.2" rx="1.32" ry="1.3"/><ellipse cx="526.1" cy="415.5" rx="1.32" ry="1.3"/><ellipse cx="526.1" cy="421.2" rx="1.32" ry="1.3"/><ellipse cx="526.1" cy="427.0" rx="1.32" ry="1.3"/><ellipse cx="526.1" cy="432.8" rx="1.32" ry="1.3"/><ellipse cx="526.1" cy="438.5" rx="1.32" ry="1.3"/><ellipse cx="526.1" cy="444.2" rx="1.32" ry="1.3"/><ellipse cx="526.1" cy="450.0" rx="1.32" ry="1.3"/><ellipse cx="526.1" cy="455.8" rx="1.32" ry="1.3"/><ellipse cx="526.1" cy="461.5" rx="1.32" ry="1.3"/><ellipse cx="526.1" cy="467.2" rx="1.32" ry="1.3"/><ellipse cx="526.1" cy="473.0" rx="1.32" ry="1.3"/><ellipse cx="526.1" cy="478.8" rx="1.32" ry="1.3"/><ellipse cx="526.1" cy="484.5" rx="1.32" ry="1.3"/><ellipse cx="526.1" cy="490.2" rx="1.32" ry="1.3"/><ellipse cx="526.1" cy="496.0" rx="1.32" ry="1.3"/><ellipse cx="526.1" cy="501.8" rx="1.32" ry="1.3"/><ellipse cx="526.1" cy="507.5" rx="1.32" ry="1.3"/><ellipse cx="526.1" cy="513.2" rx="1.32" ry="1.3"/><ellipse cx="526.1" cy="519.0" rx="1.32" ry="1.3"/><ellipse cx="526.1" cy="524.8" rx="1.32" ry="1.3"/><ellipse cx="526.1" cy="530.5" rx="1.32" ry="1.3"/><ellipse cx="526.1" cy="536.2" rx="1.32" ry="1.3"/><ellipse cx="526.1" cy="542.0" rx="1.32" ry="1.3"/><ellipse cx="526.1" cy="547.8" rx="1.32" ry="1.3"/><ellipse cx="526.1" cy="553.5" rx="1.32" ry="1.3"/><ellipse cx="526.1" cy="559.2" rx="1.32" ry="1.3"/><ellipse cx="522.3" cy="415.5" rx="1.32" ry="1.3"/><ellipse cx="522.3" cy="421.2" rx="1.32" ry="1.3"/><ellipse cx="522.3" cy="427.0" rx="1.32" ry="1.3"/><ellipse cx="522.3" cy="432.8" rx="1.32" ry="1.3"/><ellipse cx="522.3" cy="438.5" rx="1.32" ry="1.3"/><ellipse cx="522.3" cy="444.2" rx="1.32" ry="1.3"/><ellipse cx="522.3" cy="450.0" rx="1.32" ry="1.3"/><ellipse cx="522.3" cy="455.8" rx="1.32" ry="1.3"/><ellipse cx="522.3" cy="461.5" rx="1.32" ry="1.3"/><ellipse cx="522.3" cy="467.2" rx="1.32" ry="1.3"/><ellipse cx="522.3" cy="473.0" rx="1.32" ry="1.3"/><ellipse cx="522.3" cy="478.8" rx="1.32" ry="1.3"/><ellipse cx="522.3" cy="484.5" rx="1.32" ry="1.3"/><ellipse cx="522.3" cy="490.2" rx="1.32" ry="1.3"/><ellipse cx="522.3" cy="496.0" rx="1.32" ry="1.3"/><ellipse cx="522.3" cy="501.8" rx="1.32" ry="1.3"/><ellipse cx="522.3" cy="507.5" rx="1.32" ry="1.3"/><ellipse cx="522.3" cy="513.2" rx="1.32" ry="1.3"/><ellipse cx="522.3" cy="519.0" rx="1.32" ry="1.3"/><ellipse cx="522.3" cy="524.8" rx="1.32" ry="1.3"/><ellipse cx="522.3" cy="530.5" rx="1.32" ry="1.3"/><ellipse cx="522.3" cy="536.2" rx="1.32" ry="1.3"/><ellipse cx="522.3" cy="542.0" rx="1.32" ry="1.3"/><ellipse cx="522.3" cy="547.8" rx="1.32" ry="1.3"/><ellipse cx="522.3" cy="553.5" rx="1.32" ry="1.3"/><ellipse cx="522.3" cy="559.2" rx="1.32" ry="1.3"/><ellipse cx="518.5" cy="415.5" rx="1.32" ry="1.3"/><ellipse cx="518.5" cy="421.2" rx="1.32" ry="1.3"/><ellipse cx="518.5" cy="427.0" rx="1.32" ry="1.3"/><ellipse cx="518.5" cy="432.8" rx="1.32" ry="1.3"/><ellipse cx="518.5" cy="438.5" rx="1.32" ry="1.3"/><ellipse cx="518.5" cy="444.2" rx="1.32" ry="1.3"/><ellipse cx="518.5" cy="450.0" rx="1.32" ry="1.3"/><ellipse cx="518.5" cy="455.8" rx="1.32" ry="1.3"/><ellipse cx="518.5" cy="461.5" rx="1.32" ry="1.3"/><ellipse cx="518.5" cy="467.2" rx="1.32" ry="1.3"/><ellipse cx="518.5" cy="473.0" rx="1.32" ry="1.3"/><ellipse cx="518.5" cy="478.8" rx="1.32" ry="1.3"/><ellipse cx="518.5" cy="484.5" rx="1.32" ry="1.3"/><ellipse cx="518.5" cy="490.2" rx="1.32" ry="1.3"/><ellipse cx="518.5" cy="496.0" rx="1.32" ry="1.3"/><ellipse cx="518.5" cy="501.8" rx="1.32" ry="1.3"/><ellipse cx="518.5" cy="507.5" rx="1.32" ry="1.3"/><ellipse cx="518.5" cy="513.2" rx="1.32" ry="1.3"/><ellipse cx="518.5" cy="519.0" rx="1.32" ry="1.3"/><ellipse cx="518.5" cy="524.8" rx="1.32" ry="1.3"/><ellipse cx="518.5" cy="530.5" rx="1.32" ry="1.3"/><ellipse cx="518.5" cy="536.2" rx="1.32" ry="1.3"/><ellipse cx="518.5" cy="542.0" rx="1.32" ry="1.3"/><ellipse cx="518.5" cy="547.8" rx="1.32" ry="1.3"/><ellipse cx="518.5" cy="553.5" rx="1.32" ry="1.3"/><ellipse cx="518.5" cy="559.2" rx="1.32" ry="1.3"/><ellipse cx="514.7" cy="415.5" rx="1.32" ry="1.3"/><ellipse cx="514.7" cy="421.2" rx="1.32" ry="1.3"/><ellipse cx="514.7" cy="427.0" rx="1.32" ry="1.3"/><ellipse cx="514.7" cy="432.8" rx="1.32" ry="1.3"/><ellipse cx="514.7" cy="438.5" rx="1.32" ry="1.3"/><ellipse cx="514.7" cy="444.2" rx="1.32" ry="1.3"/><ellipse cx="514.7" cy="450.0" rx="1.32" ry="1.3"/><ellipse cx="514.7" cy="455.8" rx="1.32" ry="1.3"/><ellipse cx="514.7" cy="461.5" rx="1.32" ry="1.3"/><ellipse cx="514.7" cy="467.2" rx="1.32" ry="1.3"/><ellipse cx="514.7" cy="473.0" rx="1.32" ry="1.3"/><ellipse cx="514.7" cy="478.8" rx="1.32" ry="1.3"/><ellipse cx="514.7" cy="484.5" rx="1.32" ry="1.3"/><ellipse cx="514.7" cy="490.2" rx="1.32" ry="1.3"/><ellipse cx="514.7" cy="496.0" rx="1.32" ry="1.3"/><ellipse cx="514.7" cy="501.8" rx="1.32" ry="1.3"/><ellipse cx="514.7" cy="507.5" rx="1.32" ry="1.3"/><ellipse cx="514.7" cy="513.2" rx="1.32" ry="1.3"/><ellipse cx="514.7" cy="519.0" rx="1.32" ry="1.3"/><ellipse cx="514.7" cy="524.8" rx="1.32" ry="1.3"/><ellipse cx="514.7" cy="530.5" rx="1.32" ry="1.3"/><ellipse cx="514.7" cy="536.2" rx="1.32" ry="1.3"/><ellipse cx="514.7" cy="542.0" rx="1.32" ry="1.3"/><ellipse cx="514.7" cy="547.8" rx="1.32" ry="1.3"/><ellipse cx="514.7" cy="553.5" rx="1.32" ry="1.3"/><ellipse cx="514.7" cy="559.2" rx="1.32" ry="1.3"/><ellipse cx="510.9" cy="415.5" rx="1.32" ry="1.3"/><ellipse cx="510.9" cy="421.2" rx="1.32" ry="1.3"/><ellipse cx="510.9" cy="427.0" rx="1.32" ry="1.3"/><ellipse cx="510.9" cy="432.8" rx="1.32" ry="1.3"/><ellipse cx="510.9" cy="438.5" rx="1.32" ry="1.3"/><ellipse cx="510.9" cy="444.2" rx="1.32" ry="1.3"/><ellipse cx="510.9" cy="450.0" rx="1.32" ry="1.3"/><ellipse cx="510.9" cy="455.8" rx="1.32" ry="1.3"/><ellipse cx="510.9" cy="461.5" rx="1.32" ry="1.3"/><ellipse cx="510.9" cy="467.2" rx="1.32" ry="1.3"/><ellipse cx="510.9" cy="473.0" rx="1.32" ry="1.3"/><ellipse cx="510.9" cy="478.8" rx="1.32" ry="1.3"/><ellipse cx="510.9" cy="484.5" rx="1.32" ry="1.3"/><ellipse cx="510.9" cy="490.2" rx="1.32" ry="1.3"/><ellipse cx="510.9" cy="496.0" rx="1.32" ry="1.3"/><ellipse cx="510.9" cy="501.8" rx="1.32" ry="1.3"/><ellipse cx="510.9" cy="507.5" rx="1.32" ry="1.3"/><ellipse cx="510.9" cy="513.2" rx="1.32" ry="1.3"/><ellipse cx="510.9" cy="519.0" rx="1.32" ry="1.3"/><ellipse cx="510.9" cy="524.8" rx="1.32" ry="1.3"/><ellipse cx="510.9" cy="530.5" rx="1.32" ry="1.3"/><ellipse cx="510.9" cy="536.2" rx="1.32" ry="1.3"/><ellipse cx="510.9" cy="542.0" rx="1.32" ry="1.3"/><ellipse cx="510.9" cy="547.8" rx="1.32" ry="1.3"/><ellipse cx="510.9" cy="553.5" rx="1.32" ry="1.3"/><ellipse cx="510.9" cy="559.2" rx="1.32" ry="1.3"/><ellipse cx="507.1" cy="415.5" rx="1.32" ry="1.3"/><ellipse cx="507.1" cy="421.2" rx="1.32" ry="1.3"/><ellipse cx="507.1" cy="427.0" rx="1.32" ry="1.3"/><ellipse cx="507.1" cy="432.8" rx="1.32" ry="1.3"/><ellipse cx="507.1" cy="438.5" rx="1.32" ry="1.3"/><ellipse cx="507.1" cy="444.2" rx="1.32" ry="1.3"/><ellipse cx="507.1" cy="450.0" rx="1.32" ry="1.3"/><ellipse cx="507.1" cy="455.8" rx="1.32" ry="1.3"/><ellipse cx="507.1" cy="461.5" rx="1.32" ry="1.3"/><ellipse cx="507.1" cy="467.2" rx="1.32" ry="1.3"/><ellipse cx="507.1" cy="473.0" rx="1.32" ry="1.3"/><ellipse cx="507.1" cy="478.8" rx="1.32" ry="1.3"/><ellipse cx="507.1" cy="484.5" rx="1.32" ry="1.3"/><ellipse cx="507.1" cy="490.2" rx="1.32" ry="1.3"/><ellipse cx="507.1" cy="496.0" rx="1.32" ry="1.3"/><ellipse cx="507.1" cy="501.8" rx="1.32" ry="1.3"/><ellipse cx="507.1" cy="507.5" rx="1.32" ry="1.3"/><ellipse cx="507.1" cy="513.2" rx="1.32" ry="1.3"/><ellipse cx="507.1" cy="519.0" rx="1.32" ry="1.3"/><ellipse cx="507.1" cy="524.8" rx="1.32" ry="1.3"/><ellipse cx="507.1" cy="530.5" rx="1.32" ry="1.3"/><ellipse cx="507.1" cy="536.2" rx="1.32" ry="1.3"/><ellipse cx="507.1" cy="542.0" rx="1.32" ry="1.3"/><ellipse cx="507.1" cy="547.8" rx="1.32" ry="1.3"/><ellipse cx="507.1" cy="553.5" rx="1.32" ry="1.3"/><ellipse cx="507.1" cy="559.2" rx="1.32" ry="1.3"/><ellipse cx="503.3" cy="415.5" rx="1.32" ry="1.3"/><ellipse cx="503.3" cy="421.2" rx="1.32" ry="1.3"/><ellipse cx="503.3" cy="427.0" rx="1.32" ry="1.3"/><ellipse cx="503.3" cy="432.8" rx="1.32" ry="1.3"/><ellipse cx="503.3" cy="438.5" rx="1.32" ry="1.3"/><ellipse cx="503.3" cy="444.2" rx="1.32" ry="1.3"/><ellipse cx="503.3" cy="450.0" rx="1.32" ry="1.3"/><ellipse cx="503.3" cy="455.8" rx="1.32" ry="1.3"/><ellipse cx="503.3" cy="461.5" rx="1.32" ry="1.3"/><ellipse cx="503.3" cy="467.2" rx="1.32" ry="1.3"/><ellipse cx="503.3" cy="473.0" rx="1.32" ry="1.3"/><ellipse cx="503.3" cy="478.8" rx="1.32" ry="1.3"/><ellipse cx="503.3" cy="484.5" rx="1.32" ry="1.3"/><ellipse cx="503.3" cy="490.2" rx="1.32" ry="1.3"/><ellipse cx="503.3" cy="496.0" rx="1.32" ry="1.3"/><ellipse cx="503.3" cy="501.8" rx="1.32" ry="1.3"/><ellipse cx="503.3" cy="507.5" rx="1.32" ry="1.3"/><ellipse cx="503.3" cy="513.2" rx="1.32" ry="1.3"/><ellipse cx="503.3" cy="519.0" rx="1.32" ry="1.3"/><ellipse cx="503.3" cy="524.8" rx="1.32" ry="1.3"/><ellipse cx="503.3" cy="530.5" rx="1.32" ry="1.3"/><ellipse cx="503.3" cy="536.2" rx="1.32" ry="1.3"/><ellipse cx="503.3" cy="542.0" rx="1.32" ry="1.3"/><ellipse cx="503.3" cy="547.8" rx="1.32" ry="1.3"/><ellipse cx="503.3" cy="553.5" rx="1.32" ry="1.3"/><ellipse cx="503.3" cy="559.2" rx="1.32" ry="1.3"/><ellipse cx="499.5" cy="415.5" rx="1.32" ry="1.3"/><ellipse cx="499.5" cy="421.2" rx="1.32" ry="1.3"/><ellipse cx="499.5" cy="427.0" rx="1.32" ry="1.3"/><ellipse cx="499.5" cy="432.8" rx="1.32" ry="1.3"/><ellipse cx="499.5" cy="438.5" rx="1.32" ry="1.3"/><ellipse cx="499.5" cy="444.2" rx="1.32" ry="1.3"/><ellipse cx="499.5" cy="450.0" rx="1.32" ry="1.3"/><ellipse cx="499.5" cy="455.8" rx="1.32" ry="1.3"/><ellipse cx="499.5" cy="461.5" rx="1.32" ry="1.3"/><ellipse cx="499.5" cy="467.2" rx="1.32" ry="1.3"/><ellipse cx="499.5" cy="473.0" rx="1.32" ry="1.3"/><ellipse cx="499.5" cy="478.8" rx="1.32" ry="1.3"/><ellipse cx="499.5" cy="484.5" rx="1.32" ry="1.3"/><ellipse cx="499.5" cy="490.2" rx="1.32" ry="1.3"/><ellipse cx="499.5" cy="496.0" rx="1.32" ry="1.3"/><ellipse cx="499.5" cy="501.8" rx="1.32" ry="1.3"/><ellipse cx="499.5" cy="507.5" rx="1.32" ry="1.3"/><ellipse cx="499.5" cy="513.2" rx="1.32" ry="1.3"/><ellipse cx="499.5" cy="519.0" rx="1.32" ry="1.3"/><ellipse cx="499.5" cy="524.8" rx="1.32" ry="1.3"/><ellipse cx="499.5" cy="530.5" rx="1.32" ry="1.3"/><ellipse cx="499.5" cy="536.2" rx="1.32" ry="1.3"/><ellipse cx="499.5" cy="542.0" rx="1.32" ry="1.3"/><ellipse cx="499.5" cy="547.8" rx="1.32" ry="1.3"/><ellipse cx="499.5" cy="553.5" rx="1.32" ry="1.3"/><ellipse cx="499.5" cy="559.2" rx="1.32" ry="1.3"/><ellipse cx="495.7" cy="415.5" rx="1.32" ry="1.3"/><ellipse cx="495.7" cy="421.2" rx="1.32" ry="1.3"/><ellipse cx="495.7" cy="427.0" rx="1.32" ry="1.3"/><ellipse cx="495.7" cy="432.8" rx="1.32" ry="1.3"/><ellipse cx="495.7" cy="438.5" rx="1.32" ry="1.3"/><ellipse cx="495.7" cy="444.2" rx="1.32" ry="1.3"/><ellipse cx="495.7" cy="450.0" rx="1.32" ry="1.3"/><ellipse cx="495.7" cy="455.8" rx="1.32" ry="1.3"/><ellipse cx="495.7" cy="461.5" rx="1.32" ry="1.3"/><ellipse cx="495.7" cy="467.2" rx="1.32" ry="1.3"/><ellipse cx="495.7" cy="473.0" rx="1.32" ry="1.3"/><ellipse cx="495.7" cy="478.8" rx="1.32" ry="1.3"/><ellipse cx="495.7" cy="484.5" rx="1.32" ry="1.3"/><ellipse cx="495.7" cy="490.2" rx="1.32" ry="1.3"/><ellipse cx="495.7" cy="496.0" rx="1.32" ry="1.3"/><ellipse cx="495.7" cy="501.8" rx="1.32" ry="1.3"/><ellipse cx="495.7" cy="507.5" rx="1.32" ry="1.3"/><ellipse cx="495.7" cy="513.2" rx="1.32" ry="1.3"/><ellipse cx="495.7" cy="519.0" rx="1.32" ry="1.3"/><ellipse cx="495.7" cy="524.8" rx="1.32" ry="1.3"/><ellipse cx="495.7" cy="530.5" rx="1.32" ry="1.3"/><ellipse cx="495.7" cy="536.2" rx="1.32" ry="1.3"/><ellipse cx="495.7" cy="542.0" rx="1.32" ry="1.3"/><ellipse cx="495.7" cy="547.8" rx="1.32" ry="1.3"/><ellipse cx="495.7" cy="553.5" rx="1.32" ry="1.3"/><ellipse cx="495.7" cy="559.2" rx="1.32" ry="1.3"/><ellipse cx="491.9" cy="415.5" rx="1.32" ry="1.3"/><ellipse cx="491.9" cy="421.2" rx="1.32" ry="1.3"/><ellipse cx="491.9" cy="427.0" rx="1.32" ry="1.3"/><ellipse cx="491.9" cy="432.8" rx="1.32" ry="1.3"/><ellipse cx="491.9" cy="438.5" rx="1.32" ry="1.3"/><ellipse cx="491.9" cy="444.2" rx="1.32" ry="1.3"/><ellipse cx="491.9" cy="450.0" rx="1.32" ry="1.3"/><ellipse cx="491.9" cy="455.8" rx="1.32" ry="1.3"/><ellipse cx="491.9" cy="461.5" rx="1.32" ry="1.3"/><ellipse cx="491.9" cy="467.2" rx="1.32" ry="1.3"/><ellipse cx="491.9" cy="473.0" rx="1.32" ry="1.3"/><ellipse cx="491.9" cy="478.8" rx="1.32" ry="1.3"/><ellipse cx="491.9" cy="484.5" rx="1.32" ry="1.3"/><ellipse cx="491.9" cy="490.2" rx="1.32" ry="1.3"/><ellipse cx="491.9" cy="496.0" rx="1.32" ry="1.3"/><ellipse cx="491.9" cy="501.8" rx="1.32" ry="1.3"/><ellipse cx="491.9" cy="507.5" rx="1.32" ry="1.3"/><ellipse cx="491.9" cy="513.2" rx="1.32" ry="1.3"/><ellipse cx="491.9" cy="519.0" rx="1.32" ry="1.3"/><ellipse cx="491.9" cy="524.8" rx="1.32" ry="1.3"/><ellipse cx="491.9" cy="530.5" rx="1.32" ry="1.3"/><ellipse cx="491.9" cy="536.2" rx="1.32" ry="1.3"/><ellipse cx="491.9" cy="542.0" rx="1.32" ry="1.3"/><ellipse cx="491.9" cy="547.8" rx="1.32" ry="1.3"/><ellipse cx="491.9" cy="553.5" rx="1.32" ry="1.3"/><ellipse cx="491.9" cy="559.2" rx="1.32" ry="1.3"/><circle cx="482.8" cy="426.0" r="0.7"/><circle cx="485.5" cy="426.0" r="0.9"/><circle cx="488.2" cy="426.0" r="1.1"/><circle cx="490.9" cy="426.0" r="1.1"/><circle cx="493.6" cy="426.0" r="1.1"/><circle cx="496.3" cy="426.0" r="0.9"/><circle cx="499.0" cy="426.0" r="0.7"/><circle cx="481.7" cy="428.6" r="0.7"/><circle cx="484.4" cy="428.6" r="0.9"/><circle cx="487.1" cy="428.6" r="1.1"/><circle cx="489.8" cy="428.6" r="1.1"/><circle cx="492.5" cy="428.6" r="1.1"/><circle cx="495.2" cy="428.6" r="1.1"/><circle cx="497.9" cy="428.6" r="0.9"/><circle cx="500.6" cy="428.6" r="0.7"/><circle cx="483.3" cy="431.1" r="0.7"/><circle cx="486.0" cy="431.1" r="0.9"/><circle cx="488.7" cy="431.1" r="1.1"/><circle cx="491.4" cy="431.1" r="1.1"/><circle cx="494.1" cy="431.1" r="1.1"/><circle cx="496.8" cy="431.1" r="0.9"/><circle cx="499.5" cy="431.1" r="0.7"/><circle cx="482.3" cy="433.6" r="0.7"/><circle cx="485.0" cy="433.6" r="0.9"/><circle cx="487.7" cy="433.6" r="1.1"/><circle cx="490.4" cy="433.6" r="1.1"/><circle cx="493.1" cy="433.6" r="1.1"/><circle cx="495.8" cy="433.6" r="1.1"/><circle cx="498.5" cy="433.6" r="0.9"/><circle cx="501.2" cy="433.6" r="0.7"/><circle cx="483.9" cy="436.2" r="0.7"/><circle cx="486.6" cy="436.2" r="0.9"/><circle cx="489.3" cy="436.2" r="1.1"/><circle cx="492.0" cy="436.2" r="1.1"/><circle cx="494.7" cy="436.2" r="1.1"/><circle cx="497.4" cy="436.2" r="0.9"/><circle cx="500.1" cy="436.2" r="0.7"/><circle cx="482.9" cy="438.8" r="0.7"/><circle cx="485.6" cy="438.8" r="0.9"/><circle cx="488.3" cy="438.8" r="1.1"/><circle cx="491.0" cy="438.8" r="1.1"/><circle cx="493.7" cy="438.8" r="1.1"/><circle cx="496.4" cy="438.8" r="1.1"/><circle cx="499.1" cy="438.8" r="0.9"/><circle cx="501.8" cy="438.8" r="0.7"/><circle cx="484.6" cy="441.3" r="0.7"/><circle cx="487.3" cy="441.3" r="0.9"/><circle cx="490.0" cy="441.3" r="1.1"/><circle cx="492.7" cy="441.3" r="1.1"/><circle cx="495.4" cy="441.3" r="1.1"/><circle cx="498.1" cy="441.3" r="0.9"/><circle cx="500.8" cy="441.3" r="0.7"/><circle cx="483.6" cy="443.9" r="0.7"/><circle cx="486.3" cy="443.9" r="0.9"/><circle cx="489.0" cy="443.9" r="1.1"/><circle cx="491.7" cy="443.9" r="1.1"/><circle cx="494.4" cy="443.9" r="1.1"/><circle cx="497.1" cy="443.9" r="1.1"/><circle cx="499.8" cy="443.9" r="0.9"/><circle cx="502.5" cy="443.9" r="0.7"/><circle cx="485.4" cy="446.4" r="0.7"/><circle cx="488.1" cy="446.4" r="0.9"/><circle cx="490.8" cy="446.4" r="1.1"/><circle cx="493.5" cy="446.4" r="1.1"/><circle cx="496.2" cy="446.4" r="1.1"/><circle cx="498.9" cy="446.4" r="0.9"/><circle cx="501.6" cy="446.4" r="0.7"/><circle cx="484.4" cy="448.9" r="0.7"/><circle cx="487.1" cy="448.9" r="0.9"/><circle cx="489.8" cy="448.9" r="1.1"/><circle cx="492.5" cy="448.9" r="1.1"/><circle cx="495.2" cy="448.9" r="1.1"/><circle cx="497.9" cy="448.9" r="1.1"/><circle cx="500.6" cy="448.9" r="0.9"/><circle cx="503.3" cy="448.9" r="0.7"/><circle cx="486.1" cy="451.5" r="0.7"/><circle cx="488.8" cy="451.5" r="0.9"/><circle cx="491.5" cy="451.5" r="1.1"/><circle cx="494.2" cy="451.5" r="1.1"/><circle cx="496.9" cy="451.5" r="1.1"/><circle cx="499.6" cy="451.5" r="0.9"/><circle cx="502.3" cy="451.5" r="0.7"/><circle cx="485.1" cy="454.1" r="0.7"/><circle cx="487.8" cy="454.1" r="0.9"/><circle cx="490.5" cy="454.1" r="1.1"/><circle cx="493.2" cy="454.1" r="1.1"/><circle cx="495.9" cy="454.1" r="1.1"/><circle cx="498.6" cy="454.1" r="1.1"/><circle cx="501.3" cy="454.1" r="0.9"/><circle cx="504.0" cy="454.1" r="0.7"/><circle cx="486.9" cy="456.6" r="0.7"/><circle cx="489.6" cy="456.6" r="0.9"/><circle cx="492.3" cy="456.6" r="1.1"/><circle cx="495.0" cy="456.6" r="1.1"/><circle cx="497.7" cy="456.6" r="1.1"/><circle cx="500.4" cy="456.6" r="0.9"/><circle cx="503.1" cy="456.6" r="0.7"/><circle cx="485.9" cy="459.1" r="0.7"/><circle cx="488.6" cy="459.1" r="0.9"/><circle cx="491.3" cy="459.1" r="1.1"/><circle cx="494.0" cy="459.1" r="1.1"/><circle cx="496.7" cy="459.1" r="1.1"/><circle cx="499.4" cy="459.1" r="1.1"/><circle cx="502.1" cy="459.1" r="0.9"/><circle cx="504.8" cy="459.1" r="0.7"/><circle cx="487.6" cy="461.7" r="0.7"/><circle cx="490.3" cy="461.7" r="0.9"/><circle cx="493.0" cy="461.7" r="1.1"/><circle cx="495.7" cy="461.7" r="1.1"/><circle cx="498.4" cy="461.7" r="1.1"/><circle cx="501.1" cy="461.7" r="0.9"/><circle cx="503.8" cy="461.7" r="0.7"/><circle cx="486.6" cy="464.2" r="0.7"/><circle cx="489.3" cy="464.2" r="0.9"/><circle cx="492.0" cy="464.2" r="1.1"/><circle cx="494.7" cy="464.2" r="1.1"/><circle cx="497.4" cy="464.2" r="1.1"/><circle cx="500.1" cy="464.2" r="1.1"/><circle cx="502.8" cy="464.2" r="0.9"/><circle cx="505.5" cy="464.2" r="0.7"/><circle cx="488.2" cy="466.8" r="0.7"/><circle cx="490.9" cy="466.8" r="0.9"/><circle cx="493.6" cy="466.8" r="1.1"/><circle cx="496.3" cy="466.8" r="1.1"/><circle cx="499.0" cy="466.8" r="1.1"/><circle cx="501.7" cy="466.8" r="0.9"/><circle cx="504.4" cy="466.8" r="0.7"/><circle cx="487.2" cy="469.4" r="0.7"/><circle cx="489.9" cy="469.4" r="0.9"/><circle cx="492.6" cy="469.4" r="1.1"/><circle cx="495.3" cy="469.4" r="1.1"/><circle cx="498.0" cy="469.4" r="1.1"/><circle cx="500.7" cy="469.4" r="1.1"/><circle cx="503.4" cy="469.4" r="0.9"/><circle cx="506.1" cy="469.4" r="0.7"/><circle cx="488.8" cy="471.9" r="0.7"/><circle cx="491.5" cy="471.9" r="0.9"/><circle cx="494.2" cy="471.9" r="1.1"/><circle cx="496.9" cy="471.9" r="1.1"/><circle cx="499.6" cy="471.9" r="1.1"/><circle cx="502.3" cy="471.9" r="0.9"/><circle cx="505.0" cy="471.9" r="0.7"/><circle cx="487.7" cy="474.4" r="0.7"/><circle cx="490.4" cy="474.4" r="0.9"/><circle cx="493.1" cy="474.4" r="1.1"/><circle cx="495.8" cy="474.4" r="1.1"/><circle cx="498.5" cy="474.4" r="1.1"/><circle cx="501.2" cy="474.4" r="1.1"/><circle cx="503.9" cy="474.4" r="0.9"/><circle cx="506.6" cy="474.4" r="0.7"/><circle cx="489.3" cy="477.0" r="0.7"/><circle cx="492.0" cy="477.0" r="0.9"/><circle cx="494.7" cy="477.0" r="1.1"/><circle cx="497.4" cy="477.0" r="1.1"/><circle cx="500.1" cy="477.0" r="1.1"/><circle cx="502.8" cy="477.0" r="0.9"/><circle cx="505.5" cy="477.0" r="0.7"/><circle cx="488.1" cy="479.6" r="0.7"/><circle cx="490.8" cy="479.6" r="0.9"/><circle cx="493.5" cy="479.6" r="1.1"/><circle cx="496.2" cy="479.6" r="1.1"/><circle cx="498.9" cy="479.6" r="1.1"/><circle cx="501.6" cy="479.6" r="1.1"/><circle cx="504.3" cy="479.6" r="0.9"/><circle cx="507.0" cy="479.6" r="0.7"/><circle cx="489.6" cy="482.1" r="0.7"/><circle cx="492.3" cy="482.1" r="0.9"/><circle cx="495.0" cy="482.1" r="1.1"/><circle cx="497.7" cy="482.1" r="1.1"/><circle cx="500.4" cy="482.1" r="1.1"/><circle cx="503.1" cy="482.1" r="0.9"/><circle cx="505.8" cy="482.1" r="0.7"/><circle cx="488.4" cy="484.6" r="0.7"/><circle cx="491.1" cy="484.6" r="0.9"/><circle cx="493.8" cy="484.6" r="1.1"/><circle cx="496.5" cy="484.6" r="1.1"/><circle cx="499.2" cy="484.6" r="1.1"/><circle cx="501.9" cy="484.6" r="1.1"/><circle cx="504.6" cy="484.6" r="0.9"/><circle cx="507.3" cy="484.6" r="0.7"/><circle cx="489.8" cy="487.2" r="0.7"/><circle cx="492.5" cy="487.2" r="0.9"/><circle cx="495.2" cy="487.2" r="1.1"/><circle cx="497.9" cy="487.2" r="1.1"/><circle cx="500.6" cy="487.2" r="1.1"/><circle cx="503.3" cy="487.2" r="0.9"/><circle cx="506.0" cy="487.2" r="0.7"/><circle cx="488.5" cy="489.8" r="0.7"/><circle cx="491.2" cy="489.8" r="0.9"/><circle cx="493.9" cy="489.8" r="1.1"/><circle cx="496.6" cy="489.8" r="1.1"/><circle cx="499.3" cy="489.8" r="1.1"/><circle cx="502.0" cy="489.8" r="1.1"/><circle cx="504.7" cy="489.8" r="0.9"/><circle cx="507.4" cy="489.8" r="0.7"/><circle cx="489.9" cy="492.3" r="0.7"/><circle cx="492.6" cy="492.3" r="0.9"/><circle cx="495.3" cy="492.3" r="1.1"/><circle cx="498.0" cy="492.3" r="1.1"/><circle cx="500.7" cy="492.3" r="1.1"/><circle cx="503.4" cy="492.3" r="0.9"/><circle cx="506.1" cy="492.3" r="0.7"/><circle cx="488.5" cy="494.9" r="0.7"/><circle cx="491.2" cy="494.9" r="0.9"/><circle cx="493.9" cy="494.9" r="1.1"/><circle cx="496.6" cy="494.9" r="1.1"/><circle cx="499.3" cy="494.9" r="1.1"/><circle cx="502.0" cy="494.9" r="1.1"/><circle cx="504.7" cy="494.9" r="0.9"/><circle cx="507.4" cy="494.9" r="0.7"/><circle cx="489.8" cy="497.4" r="0.7"/><circle cx="492.5" cy="497.4" r="0.9"/><circle cx="495.2" cy="497.4" r="1.1"/><circle cx="497.9" cy="497.4" r="1.1"/><circle cx="500.6" cy="497.4" r="1.1"/><circle cx="503.3" cy="497.4" r="0.9"/><circle cx="506.0" cy="497.4" r="0.7"/><circle cx="488.4" cy="499.9" r="0.7"/><circle cx="491.1" cy="499.9" r="0.9"/><circle cx="493.8" cy="499.9" r="1.1"/><circle cx="496.5" cy="499.9" r="1.1"/><circle cx="499.2" cy="499.9" r="1.1"/><circle cx="501.9" cy="499.9" r="1.1"/><circle cx="504.6" cy="499.9" r="0.9"/><circle cx="507.3" cy="499.9" r="0.7"/><circle cx="489.6" cy="502.5" r="0.7"/><circle cx="492.3" cy="502.5" r="0.9"/><circle cx="495.0" cy="502.5" r="1.1"/><circle cx="497.7" cy="502.5" r="1.1"/><circle cx="500.4" cy="502.5" r="1.1"/><circle cx="503.1" cy="502.5" r="0.9"/><circle cx="505.8" cy="502.5" r="0.7"/><circle cx="488.1" cy="505.1" r="0.7"/><circle cx="490.8" cy="505.1" r="0.9"/><circle cx="493.5" cy="505.1" r="1.1"/><circle cx="496.2" cy="505.1" r="1.1"/><circle cx="498.9" cy="505.1" r="1.1"/><circle cx="501.6" cy="505.1" r="1.1"/><circle cx="504.3" cy="505.1" r="0.9"/><circle cx="507.0" cy="505.1" r="0.7"/><circle cx="489.3" cy="507.6" r="0.7"/><circle cx="492.0" cy="507.6" r="0.9"/><circle cx="494.7" cy="507.6" r="1.1"/><circle cx="497.4" cy="507.6" r="1.1"/><circle cx="500.1" cy="507.6" r="1.1"/><circle cx="502.8" cy="507.6" r="0.9"/><circle cx="505.5" cy="507.6" r="0.7"/><circle cx="487.7" cy="510.1" r="0.7"/><circle cx="490.4" cy="510.1" r="0.9"/><circle cx="493.1" cy="510.1" r="1.1"/><circle cx="495.8" cy="510.1" r="1.1"/><circle cx="498.5" cy="510.1" r="1.1"/><circle cx="501.2" cy="510.1" r="1.1"/><circle cx="503.9" cy="510.1" r="0.9"/><circle cx="506.6" cy="510.1" r="0.7"/><circle cx="488.8" cy="512.7" r="0.7"/><circle cx="491.5" cy="512.7" r="0.9"/><circle cx="494.2" cy="512.7" r="1.1"/><circle cx="496.9" cy="512.7" r="1.1"/><circle cx="499.6" cy="512.7" r="1.1"/><circle cx="502.3" cy="512.7" r="0.9"/><circle cx="505.0" cy="512.7" r="0.7"/><circle cx="487.2" cy="515.2" r="0.7"/><circle cx="489.9" cy="515.2" r="0.9"/><circle cx="492.6" cy="515.2" r="1.1"/><circle cx="495.3" cy="515.2" r="1.1"/><circle cx="498.0" cy="515.2" r="1.1"/><circle cx="500.7" cy="515.2" r="1.1"/><circle cx="503.4" cy="515.2" r="0.9"/><circle cx="506.1" cy="515.2" r="0.7"/><circle cx="488.3" cy="517.8" r="0.7"/><circle cx="491.0" cy="517.8" r="0.9"/><circle cx="493.7" cy="517.8" r="1.1"/><circle cx="496.4" cy="517.8" r="1.1"/><circle cx="499.1" cy="517.8" r="1.1"/><circle cx="501.8" cy="517.8" r="0.9"/><circle cx="504.5" cy="517.8" r="0.7"/><circle cx="486.6" cy="520.4" r="0.7"/><circle cx="489.3" cy="520.4" r="0.9"/><circle cx="492.0" cy="520.4" r="1.1"/><circle cx="494.7" cy="520.4" r="1.1"/><circle cx="497.4" cy="520.4" r="1.1"/><circle cx="500.1" cy="520.4" r="1.1"/><circle cx="502.8" cy="520.4" r="0.9"/><circle cx="505.5" cy="520.4" r="0.7"/><circle cx="487.6" cy="522.9" r="0.7"/><circle cx="490.3" cy="522.9" r="0.9"/><circle cx="493.0" cy="522.9" r="1.1"/><circle cx="495.7" cy="522.9" r="1.1"/><circle cx="498.4" cy="522.9" r="1.1"/><circle cx="501.1" cy="522.9" r="0.9"/><circle cx="503.8" cy="522.9" r="0.7"/><circle cx="485.9" cy="525.5" r="0.7"/><circle cx="488.6" cy="525.5" r="0.9"/><circle cx="491.3" cy="525.5" r="1.1"/><circle cx="494.0" cy="525.5" r="1.1"/><circle cx="496.7" cy="525.5" r="1.1"/><circle cx="499.4" cy="525.5" r="1.1"/><circle cx="502.1" cy="525.5" r="0.9"/><circle cx="504.8" cy="525.5" r="0.7"/><circle cx="486.9" cy="528.0" r="0.7"/><circle cx="489.6" cy="528.0" r="0.9"/><circle cx="492.3" cy="528.0" r="1.1"/><circle cx="495.0" cy="528.0" r="1.1"/><circle cx="497.7" cy="528.0" r="1.1"/><circle cx="500.4" cy="528.0" r="0.9"/><circle cx="503.1" cy="528.0" r="0.7"/><circle cx="485.2" cy="530.5" r="0.7"/><circle cx="487.9" cy="530.5" r="0.9"/><circle cx="490.6" cy="530.5" r="1.1"/><circle cx="493.3" cy="530.5" r="1.1"/><circle cx="496.0" cy="530.5" r="1.1"/><circle cx="498.7" cy="530.5" r="1.1"/><circle cx="501.4" cy="530.5" r="0.9"/><circle cx="504.1" cy="530.5" r="0.7"/><circle cx="486.2" cy="533.1" r="0.7"/><circle cx="488.9" cy="533.1" r="0.9"/><circle cx="491.6" cy="533.1" r="1.1"/><circle cx="494.3" cy="533.1" r="1.1"/><circle cx="497.0" cy="533.1" r="1.1"/><circle cx="499.7" cy="533.1" r="0.9"/><circle cx="502.4" cy="533.1" r="0.7"/><circle cx="484.5" cy="535.6" r="0.7"/><circle cx="487.2" cy="535.6" r="0.9"/><circle cx="489.9" cy="535.6" r="1.1"/><circle cx="492.6" cy="535.6" r="1.1"/><circle cx="495.3" cy="535.6" r="1.1"/><circle cx="498.0" cy="535.6" r="1.1"/><circle cx="500.7" cy="535.6" r="0.9"/><circle cx="503.4" cy="535.6" r="0.7"/><circle cx="485.4" cy="538.2" r="0.7"/><circle cx="488.1" cy="538.2" r="0.9"/><circle cx="490.8" cy="538.2" r="1.1"/><circle cx="493.5" cy="538.2" r="1.1"/><circle cx="496.2" cy="538.2" r="1.1"/><circle cx="498.9" cy="538.2" r="0.9"/><circle cx="501.6" cy="538.2" r="0.7"/><circle cx="483.7" cy="540.8" r="0.7"/><circle cx="486.4" cy="540.8" r="0.9"/><circle cx="489.1" cy="540.8" r="1.1"/><circle cx="491.8" cy="540.8" r="1.1"/><circle cx="494.5" cy="540.8" r="1.1"/><circle cx="497.2" cy="540.8" r="1.1"/><circle cx="499.9" cy="540.8" r="0.9"/><circle cx="502.6" cy="540.8" r="0.7"/><circle cx="484.7" cy="543.3" r="0.7"/><circle cx="487.4" cy="543.3" r="0.9"/><circle cx="490.1" cy="543.3" r="1.1"/><circle cx="492.8" cy="543.3" r="1.1"/><circle cx="495.5" cy="543.3" r="1.1"/><circle cx="498.2" cy="543.3" r="0.9"/><circle cx="500.9" cy="543.3" r="0.7"/><circle cx="483.0" cy="545.9" r="0.7"/><circle cx="485.7" cy="545.9" r="0.9"/><circle cx="488.4" cy="545.9" r="1.1"/><circle cx="491.1" cy="545.9" r="1.1"/><circle cx="493.8" cy="545.9" r="1.1"/><circle cx="496.5" cy="545.9" r="1.1"/><circle cx="499.2" cy="545.9" r="0.9"/><circle cx="501.9" cy="545.9" r="0.7"/><circle cx="484.0" cy="548.4" r="0.7"/><circle cx="486.7" cy="548.4" r="0.9"/><circle cx="489.4" cy="548.4" r="1.1"/><circle cx="492.1" cy="548.4" r="1.1"/><circle cx="494.8" cy="548.4" r="1.1"/><circle cx="497.5" cy="548.4" r="0.9"/><circle cx="500.2" cy="548.4" r="0.7"/><circle cx="482.3" cy="551.0" r="0.7"/><circle cx="485.0" cy="551.0" r="0.9"/><circle cx="487.7" cy="551.0" r="1.1"/><circle cx="490.4" cy="551.0" r="1.1"/><circle cx="493.1" cy="551.0" r="1.1"/><circle cx="495.8" cy="551.0" r="1.1"/><circle cx="498.5" cy="551.0" r="0.9"/><circle cx="501.2" cy="551.0" r="0.7"/><circle cx="483.4" cy="553.5" r="0.7"/><circle cx="486.1" cy="553.5" r="0.9"/><circle cx="488.8" cy="553.5" r="1.1"/><circle cx="491.5" cy="553.5" r="1.1"/><circle cx="494.2" cy="553.5" r="1.1"/><circle cx="496.9" cy="553.5" r="0.9"/><circle cx="499.6" cy="553.5" r="0.7"/><circle cx="481.7" cy="556.0" r="0.7"/><circle cx="484.4" cy="556.0" r="0.9"/><circle cx="487.1" cy="556.0" r="1.1"/><circle cx="489.8" cy="556.0" r="1.1"/><circle cx="492.5" cy="556.0" r="1.1"/><circle cx="495.2" cy="556.0" r="1.1"/><circle cx="497.9" cy="556.0" r="0.9"/><circle cx="500.6" cy="556.0" r="0.7"/><circle cx="482.8" cy="558.6" r="0.7"/><circle cx="485.5" cy="558.6" r="0.9"/><circle cx="488.2" cy="558.6" r="1.1"/><circle cx="490.9" cy="558.6" r="1.1"/><circle cx="493.6" cy="558.6" r="1.1"/><circle cx="496.3" cy="558.6" r="0.9"/><circle cx="499.0" cy="558.6" r="0.7"/><circle cx="481.3" cy="561.1" r="0.7"/><circle cx="484.0" cy="561.1" r="0.9"/><circle cx="486.7" cy="561.1" r="1.1"/><circle cx="489.4" cy="561.1" r="1.1"/><circle cx="492.1" cy="561.1" r="1.1"/><circle cx="494.8" cy="561.1" r="1.1"/><circle cx="497.5" cy="561.1" r="0.9"/><circle cx="500.2" cy="561.1" r="0.7"/><circle cx="482.4" cy="563.7" r="0.7"/><circle cx="485.1" cy="563.7" r="0.9"/><circle cx="487.8" cy="563.7" r="1.1"/><circle cx="490.5" cy="563.7" r="1.1"/><circle cx="493.2" cy="563.7" r="1.1"/><circle cx="495.9" cy="563.7" r="0.9"/><circle cx="498.6" cy="563.7" r="0.7"/><circle cx="480.9" cy="566.2" r="0.7"/><circle cx="483.6" cy="566.2" r="0.9"/><circle cx="486.3" cy="566.2" r="1.1"/><circle cx="489.0" cy="566.2" r="1.1"/><circle cx="491.7" cy="566.2" r="1.1"/><circle cx="494.4" cy="566.2" r="1.1"/><circle cx="497.1" cy="566.2" r="0.9"/><circle cx="499.8" cy="566.2" r="0.7"/><circle cx="482.1" cy="568.8" r="0.7"/><circle cx="484.8" cy="568.8" r="0.9"/><circle cx="487.5" cy="568.8" r="1.1"/><circle cx="490.2" cy="568.8" r="1.1"/><circle cx="492.9" cy="568.8" r="1.1"/><circle cx="495.6" cy="568.8" r="0.9"/><circle cx="498.3" cy="568.8" r="0.7"/><circle cx="480.7" cy="571.4" r="0.7"/><circle cx="483.4" cy="571.4" r="0.9"/><circle cx="486.1" cy="571.4" r="1.1"/><circle cx="488.8" cy="571.4" r="1.1"/><circle cx="491.5" cy="571.4" r="1.1"/><circle cx="494.2" cy="571.4" r="1.1"/><circle cx="496.9" cy="571.4" r="0.9"/><circle cx="499.6" cy="571.4" r="0.7"/><circle cx="481.9" cy="573.9" r="0.7"/><circle cx="484.6" cy="573.9" r="0.9"/><circle cx="487.3" cy="573.9" r="1.1"/><circle cx="490.0" cy="573.9" r="1.1"/><circle cx="492.7" cy="573.9" r="1.1"/><circle cx="495.4" cy="573.9" r="0.9"/><circle cx="498.1" cy="573.9" r="0.7"/><circle cx="480.6" cy="576.5" r="0.7"/><circle cx="483.3" cy="576.5" r="0.9"/><circle cx="486.0" cy="576.5" r="1.1"/><circle cx="488.7" cy="576.5" r="1.1"/><circle cx="491.4" cy="576.5" r="1.1"/><circle cx="494.1" cy="576.5" r="1.1"/><circle cx="496.8" cy="576.5" r="0.9"/><circle cx="499.5" cy="576.5" r="0.7"/><circle cx="481.9" cy="579.0" r="0.7"/><circle cx="484.6" cy="579.0" r="0.9"/><circle cx="487.3" cy="579.0" r="1.1"/><circle cx="490.0" cy="579.0" r="1.1"/><circle cx="492.7" cy="579.0" r="1.1"/><circle cx="495.4" cy="579.0" r="0.9"/><circle cx="498.1" cy="579.0" r="0.7"/><circle cx="480.6" cy="581.5" r="0.7"/><circle cx="483.3" cy="581.5" r="0.9"/><circle cx="486.0" cy="581.5" r="1.1"/><circle cx="488.7" cy="581.5" r="1.1"/><circle cx="491.4" cy="581.5" r="1.1"/><circle cx="494.1" cy="581.5" r="1.1"/><circle cx="496.8" cy="581.5" r="0.9"/><circle cx="499.5" cy="581.5" r="0.7"/><circle cx="482.0" cy="584.1" r="0.7"/><circle cx="484.7" cy="584.1" r="0.9"/><circle cx="487.4" cy="584.1" r="1.1"/><circle cx="490.1" cy="584.1" r="1.1"/><circle cx="492.8" cy="584.1" r="1.1"/><circle cx="495.5" cy="584.1" r="0.9"/><circle cx="498.2" cy="584.1" r="0.7"/><circle cx="480.8" cy="586.6" r="0.7"/><circle cx="483.5" cy="586.6" r="0.9"/><circle cx="486.2" cy="586.6" r="1.1"/><circle cx="488.9" cy="586.6" r="1.1"/><circle cx="491.6" cy="586.6" r="1.1"/><circle cx="494.3" cy="586.6" r="1.1"/><circle cx="497.0" cy="586.6" r="0.9"/><circle cx="499.7" cy="586.6" r="0.7"/></g></g>
<g id="cover_details">
<!-- left edge inner line -->
<!-- top face: left bevel -->
<path d="M397.3,445.2 L413.75,454.6 Q421,459 423.9,468.5 Q425,471.5 425,474 L426.5,562" stroke-width="1.25"/>
<path d="M394.3,449.4 L411.5,458.4 Q418,463 420.5,470 Q422,473 422,476 L422.8,562.5" stroke-width="1.25"/>
<!-- top face front boundary curve -->
<path d="M413.75,454.6 C440,451 465,442 483,430 C500,419 520,406 529.5,389" stroke-width="1.38"/>
<!-- dot region top boundary (left part) -->
<path d="M422.3,472.7 C445,466 472,457.5 495,445 Q515,433 523.3,426 Q533,417 539.8,408" stroke-width="1.38"/>
<!-- front face left boundary (double) -->
<!-- dot region bottom boundary -->
<path d="M422.5,562.5 C440,558 465,552.5 490,542 Q515,531 536.3,513" stroke-width="1.38"/>
<!-- lower band -->
<path d="M421.5,574.8 C440,572 458,569.5 470,566.5 Q493,558.5 516.8,548.8 Q530,540 535.3,526" stroke-width="1.25"/>
<path d="M422.5,562.5 Q419,570 418.5,578 L410,612.5" stroke-width="1.12"/>
<path d="M417.5,583.8 Q424,592 432.5,595 Q443,598.5 455,597.5 Q470,595 478,590" stroke-width="1.12"/>
<!-- seam -->
<path d="M482.8,428.5 Q490,435 492.5,448" stroke-width="1.12"/>
<!-- text strip -->
<path d="M442.8,438.3 L503.3,405" stroke-width="3.20" stroke="#3a3a3a" stroke-linecap="butt"/>
<path d="M455,431.5 L456.5,430.7 M470,423.3 L471.3,422.6 M487,414 L488.2,413.3" stroke-width="3.30" stroke="#777" stroke-linecap="butt"/>
<!-- small icons on side -->
<path d="M410.5,529.5 L420.5,532 L420.5,539 L410.5,536.5 Z M412.5,531.5 L418.5,533.2 L418.5,537 L412.5,535.3 Z" stroke-width="1.00"/>
<path d="M412.5,541.5 L420.5,543.5 L420.5,550.5 L412.5,548.5 Z M414,543.5 L419,545 L419,548.5" stroke-width="1.00"/>
<!-- PIR window -->
<circle cx="490.5" cy="561" r="9.8" stroke-width="1.12"/>
<path d="M489.7,542.3 Q496,553 493.7,562.3 Q491.5,570 487,574.3" stroke-width="1.00"/>
<path d="M481.5,566 Q490,569.5 499.5,565" stroke-width="0.88"/>
<path d="M470.2,552 L506,532.5 L507,540 L469.2,560.7 Z" fill="#fff" stroke-width="1.25"/>
<path d="M460.3,567.7 L485.7,566.3" stroke-width="1.00"/>
<path d="M444.3,571.5 L458,568 L458.5,572.3 L445,575 Z" fill="#888" stroke-width="1.00"/>
<path d="M469,574 L478,572.3 L480,575.5 L471.5,578.5 Z" stroke-width="1.00"/>
</g>

<g id="bar">
<!-- main body silhouette -->
<path d="M187,554.6 L195,554 L253.3,520 L260.8,515 L267.5,509.2 L270,508 L276.7,508 Q284,510 287.5,515 Q291,519 290.4,524.2 Q289.5,529 286.7,533.3 L280,534.2 L276.5,531.5 L198,576 L198.5,585 L188,584.5 L177.5,580 L170,569.5 Q169,566 172,564.5 L180,562 Z" fill="#fff" stroke-width="1.50"/>
<!-- knob left -->
<path d="M180.3,560 Q179.5,554 183.5,553.6 Q187.5,553.6 187.2,558" fill="#fff" stroke-width="1.25"/>
<!-- pegs on top -->
<path d="M197.3,552.5 Q197.4,548.8 199.8,548.6 Q202.2,548.8 202.3,549.7" fill="#fff" stroke-width="1.12"/>
<path d="M207.8,546.4 Q207.9,542.7 210.3,542.5 Q212.7,542.7 212.8,543.6" fill="#fff" stroke-width="1.12"/>
<path d="M227.2,535.1 Q227.3,531.4 229.7,531.2 Q232.1,531.4 232.2,532.3" fill="#fff" stroke-width="1.12"/>
<path d="M237.2,529.2 Q237.3,525.5 239.7,525.3 Q242.1,525.5 242.2,526.4" fill="#fff" stroke-width="1.12"/>
<path d="M253.5,520 Q252.8,512.5 256.7,511.3 Q260.5,511 260.8,515" fill="#fff" stroke-width="1.25"/>
<path d="M254.3,519.3 L256.5,517.5" stroke-width="1.00"/>
<!-- front face top edge -->
<path d="M195.5,564 L274.2,519.6 L285.8,520.8" stroke-width="1.25"/>
<!-- front face left edge -->
<path d="M196,564 L198,576 L198,584.5" stroke-width="1.25"/>
<!-- front face bottom edge -->
<path d="M198,576 L276.5,531.5" stroke-width="1.38"/>
<!-- left end cap -->
<path d="M169.5,567 Q170,564.5 173.5,564.5 L178,564.3 L191.5,569.5 Q194.5,571 194.5,575 L194.5,583 L188.3,584.5 L178.3,579.4 Q174,576.5 171.3,572.5 Q169.2,569.5 169.5,567 Z" fill="#fff" stroke-width="1.38"/>
<path d="M171,567.6 L191,574.8" stroke-width="2.00" stroke="#3a3a3a"/>
<path d="M172.5,570.4 L191.5,577.2" stroke-width="1.00" stroke="#555"/>
<path d="M177.6,576.4 L177.8,579.8 L188.4,584.2 M191.5,576.5 L191.5,584" stroke-width="1.06"/>
<path d="M182.5,561.8 L189.5,565.2 L186,566.5 L180.5,564 Z" fill="#888" stroke-width="0.88"/>
<path d="M194.5,571.5 L196.3,568.5" stroke-width="1.12"/>
<!-- windows on front face -->
<path d="M207.5,563.5 L207.5,571.5 M209.5,562.5 L219,557.3 L219,565.5 L209.5,570.7 Z" stroke-width="1.06"/>
<path d="M221.5,556 L221.5,564" stroke-width="1.00"/>
<path d="M237,546.5 L237,554.5 M239,545.3 L249,540 L249,548 L239,553.3 Z" stroke-width="1.06"/>
<path d="M251.5,538.5 L251.5,546.5" stroke-width="1.00"/>
<!-- dark slot -->
<path d="M255,533.3 L274.2,523.6 L274.2,527.8 L255.8,537 Z" fill="#333" stroke-width="1.12"/>
<!-- end block -->
<path d="M275,520.8 L285.8,520.8 L285.8,532.5 L276.7,533.3 Z" fill="#fff" stroke-width="1.12"/>
<path d="M277,521 L277,533 M270,508 L272,512 L281.7,511 L285.8,520.8 M272,512 L274.2,519.6" stroke-width="1.00"/>
</g>


</g>
<!-- ===== LABELS ===== -->
<g stroke="#4a4a4a" stroke-width="1.4" fill="none">
<path d="M210,215.8 L226.3,206"/>
<path d="M315,285.8 L331.3,276.2"/>
<path d="M362.7,336 L378.7,327.3"/>
<path d="M366,593.6 L388.3,593.6"/>
<path d="M140,570 L161,570"/>
</g>
<text class="lbl" x="229" y="205.6">(1)</text>
<text class="lbl" x="334" y="276">(2)</text>
<text class="lbl" x="380.8" y="326.5">(3)</text>
<text class="lbl" x="340.5" y="600.5">(4)</text>
<text class="lbl" x="111.3" y="575.5">(5)</text>

</svg>
</body></html>
